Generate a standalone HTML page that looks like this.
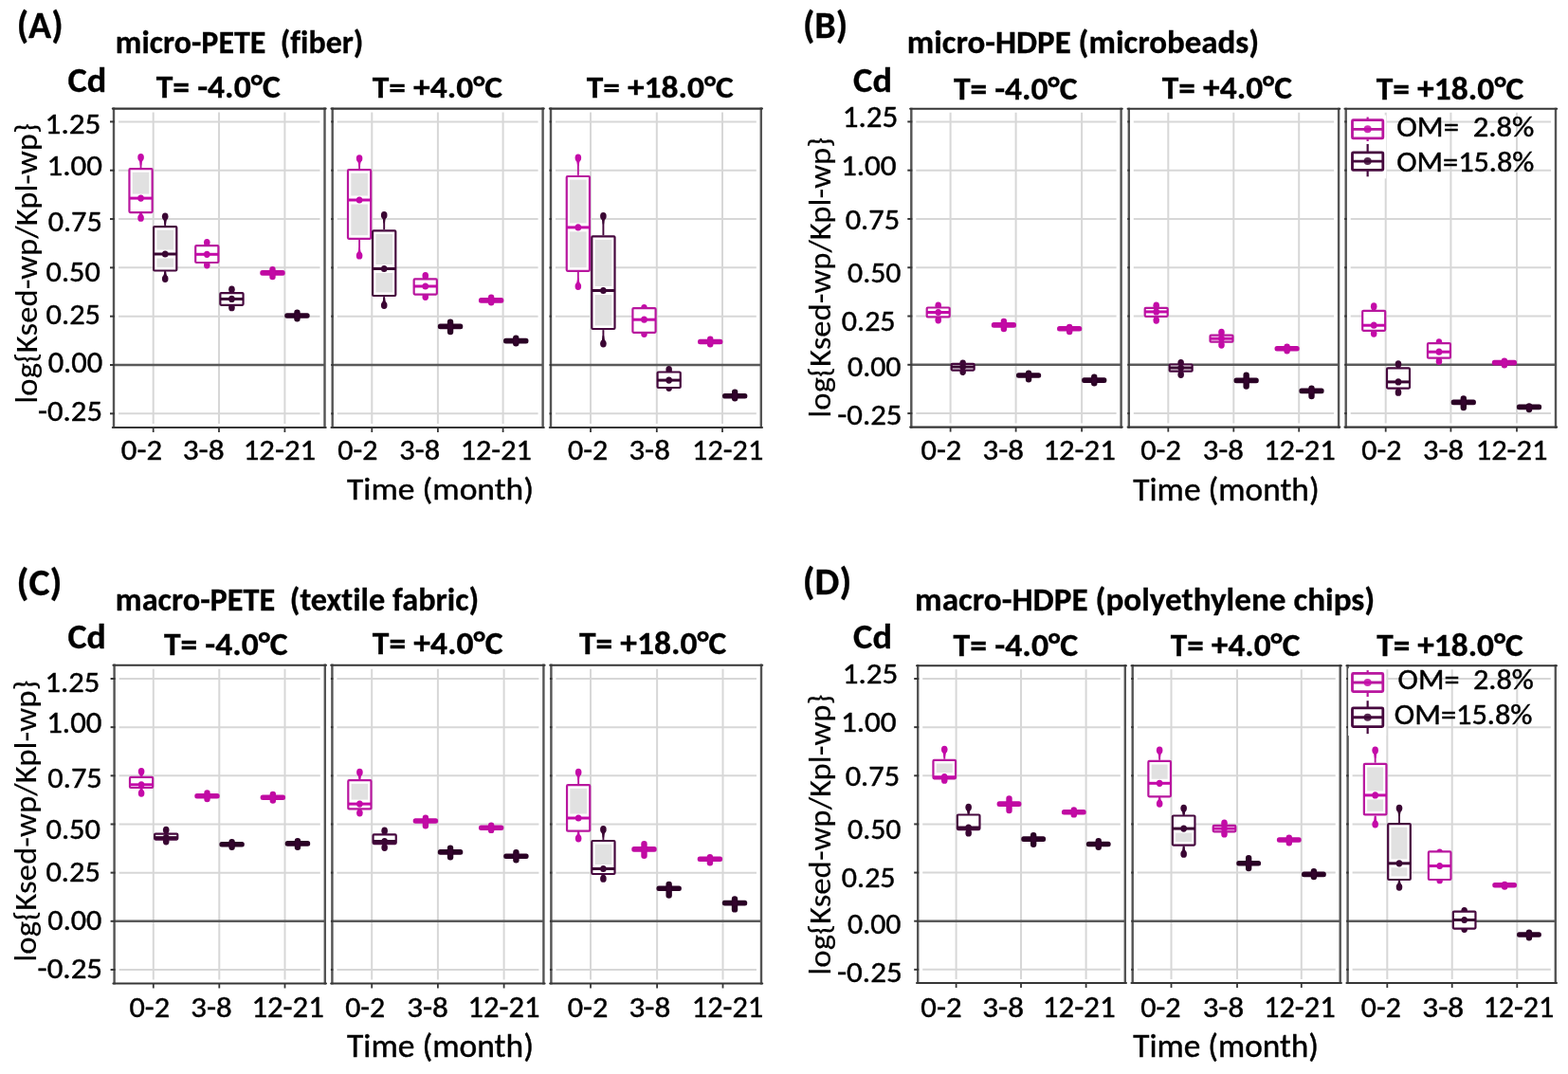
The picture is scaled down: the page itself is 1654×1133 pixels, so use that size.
<!DOCTYPE html>
<html><head><meta charset="utf-8"><title>Cd partitioning boxplots</title>
<style>html,body{margin:0;padding:0;background:#fff;}svg{display:block;}text{font-family:Carlito, 'Liberation Sans', sans-serif;white-space:pre;font-variant-ligatures:none;font-kerning:normal;stroke:#000;stroke-width:0.45px;}text[font-weight=bold]{stroke-width:0.3px;}</style></head>
<body><svg width="1654" height="1133" viewBox="0 0 1654 1133">
<rect width="1654" height="1133" fill="#fff"/>
<line x1="125" y1="128.4" x2="337.5" y2="128.4" stroke="#d7d7d7" stroke-width="2"/>
<line x1="125" y1="179.72" x2="337.5" y2="179.72" stroke="#d7d7d7" stroke-width="2"/>
<line x1="125" y1="231.04" x2="337.5" y2="231.04" stroke="#d7d7d7" stroke-width="2"/>
<line x1="125" y1="282.36" x2="337.5" y2="282.36" stroke="#d7d7d7" stroke-width="2"/>
<line x1="125" y1="333.68" x2="337.5" y2="333.68" stroke="#d7d7d7" stroke-width="2"/>
<line x1="125" y1="436.32" x2="337.5" y2="436.32" stroke="#d7d7d7" stroke-width="2"/>
<line x1="161.7" y1="118.6" x2="161.7" y2="447" stroke="#d7d7d7" stroke-width="2"/>
<line x1="231" y1="118.6" x2="231" y2="447" stroke="#d7d7d7" stroke-width="2"/>
<line x1="300.4" y1="118.6" x2="300.4" y2="447" stroke="#d7d7d7" stroke-width="2"/>
<line x1="120" y1="385" x2="342.5" y2="385" stroke="#5a5a5a" stroke-width="2.4"/>
<line x1="120" y1="113.5" x2="120" y2="452.1" stroke="#545454" stroke-width="2.4"/>
<line x1="342.5" y1="113.5" x2="342.5" y2="452.1" stroke="#545454" stroke-width="2.4"/>
<line x1="118.8" y1="114.6" x2="343.7" y2="114.6" stroke="#363636" stroke-width="2.1" stroke-linecap="round"/>
<line x1="118.8" y1="451" x2="343.7" y2="451" stroke="#363636" stroke-width="2.1" stroke-linecap="round"/>
<line x1="161.7" y1="451" x2="161.7" y2="456" stroke="#363636" stroke-width="1.8"/>
<line x1="231" y1="451" x2="231" y2="456" stroke="#363636" stroke-width="1.8"/>
<line x1="300.4" y1="451" x2="300.4" y2="456" stroke="#363636" stroke-width="1.8"/>
<line x1="116" y1="128.4" x2="121" y2="128.4" stroke="#363636" stroke-width="2"/>
<line x1="116" y1="179.72" x2="121" y2="179.72" stroke="#363636" stroke-width="2"/>
<line x1="116" y1="231.04" x2="121" y2="231.04" stroke="#363636" stroke-width="2"/>
<line x1="116" y1="282.36" x2="121" y2="282.36" stroke="#363636" stroke-width="2"/>
<line x1="116" y1="333.68" x2="121" y2="333.68" stroke="#363636" stroke-width="2"/>
<line x1="116" y1="385" x2="121" y2="385" stroke="#363636" stroke-width="2"/>
<line x1="116" y1="436.32" x2="121" y2="436.32" stroke="#363636" stroke-width="2"/>
<line x1="355.7" y1="128.4" x2="567.6" y2="128.4" stroke="#d7d7d7" stroke-width="2"/>
<line x1="355.7" y1="179.72" x2="567.6" y2="179.72" stroke="#d7d7d7" stroke-width="2"/>
<line x1="355.7" y1="231.04" x2="567.6" y2="231.04" stroke="#d7d7d7" stroke-width="2"/>
<line x1="355.7" y1="282.36" x2="567.6" y2="282.36" stroke="#d7d7d7" stroke-width="2"/>
<line x1="355.7" y1="333.68" x2="567.6" y2="333.68" stroke="#d7d7d7" stroke-width="2"/>
<line x1="355.7" y1="436.32" x2="567.6" y2="436.32" stroke="#d7d7d7" stroke-width="2"/>
<line x1="392.3" y1="118.6" x2="392.3" y2="447" stroke="#d7d7d7" stroke-width="2"/>
<line x1="461.9" y1="118.6" x2="461.9" y2="447" stroke="#d7d7d7" stroke-width="2"/>
<line x1="530.6" y1="118.6" x2="530.6" y2="447" stroke="#d7d7d7" stroke-width="2"/>
<line x1="350.7" y1="385" x2="572.6" y2="385" stroke="#5a5a5a" stroke-width="2.4"/>
<line x1="350.7" y1="113.5" x2="350.7" y2="452.1" stroke="#545454" stroke-width="2.4"/>
<line x1="572.6" y1="113.5" x2="572.6" y2="452.1" stroke="#545454" stroke-width="2.4"/>
<line x1="349.5" y1="114.6" x2="573.8" y2="114.6" stroke="#363636" stroke-width="2.1" stroke-linecap="round"/>
<line x1="349.5" y1="451" x2="573.8" y2="451" stroke="#363636" stroke-width="2.1" stroke-linecap="round"/>
<line x1="392.3" y1="451" x2="392.3" y2="456" stroke="#363636" stroke-width="1.8"/>
<line x1="461.9" y1="451" x2="461.9" y2="456" stroke="#363636" stroke-width="1.8"/>
<line x1="530.6" y1="451" x2="530.6" y2="456" stroke="#363636" stroke-width="1.8"/>
<line x1="349.2" y1="128.4" x2="351.7" y2="128.4" stroke="#363636" stroke-width="2"/>
<line x1="349.2" y1="179.72" x2="351.7" y2="179.72" stroke="#363636" stroke-width="2"/>
<line x1="349.2" y1="231.04" x2="351.7" y2="231.04" stroke="#363636" stroke-width="2"/>
<line x1="349.2" y1="282.36" x2="351.7" y2="282.36" stroke="#363636" stroke-width="2"/>
<line x1="349.2" y1="333.68" x2="351.7" y2="333.68" stroke="#363636" stroke-width="2"/>
<line x1="349.2" y1="385" x2="351.7" y2="385" stroke="#363636" stroke-width="2"/>
<line x1="349.2" y1="436.32" x2="351.7" y2="436.32" stroke="#363636" stroke-width="2"/>
<line x1="586" y1="128.4" x2="797.8" y2="128.4" stroke="#d7d7d7" stroke-width="2"/>
<line x1="586" y1="179.72" x2="797.8" y2="179.72" stroke="#d7d7d7" stroke-width="2"/>
<line x1="586" y1="231.04" x2="797.8" y2="231.04" stroke="#d7d7d7" stroke-width="2"/>
<line x1="586" y1="282.36" x2="797.8" y2="282.36" stroke="#d7d7d7" stroke-width="2"/>
<line x1="586" y1="333.68" x2="797.8" y2="333.68" stroke="#d7d7d7" stroke-width="2"/>
<line x1="586" y1="436.32" x2="797.8" y2="436.32" stroke="#d7d7d7" stroke-width="2"/>
<line x1="623" y1="118.6" x2="623" y2="447" stroke="#d7d7d7" stroke-width="2"/>
<line x1="692.8" y1="118.6" x2="692.8" y2="447" stroke="#d7d7d7" stroke-width="2"/>
<line x1="762" y1="118.6" x2="762" y2="447" stroke="#d7d7d7" stroke-width="2"/>
<line x1="581" y1="385" x2="802.8" y2="385" stroke="#5a5a5a" stroke-width="2.4"/>
<line x1="581" y1="113.5" x2="581" y2="452.1" stroke="#545454" stroke-width="2.4"/>
<line x1="802.8" y1="113.5" x2="802.8" y2="452.1" stroke="#545454" stroke-width="2.4"/>
<line x1="579.8" y1="114.6" x2="804" y2="114.6" stroke="#363636" stroke-width="2.1" stroke-linecap="round"/>
<line x1="579.8" y1="451" x2="804" y2="451" stroke="#363636" stroke-width="2.1" stroke-linecap="round"/>
<line x1="623" y1="451" x2="623" y2="456" stroke="#363636" stroke-width="1.8"/>
<line x1="692.8" y1="451" x2="692.8" y2="456" stroke="#363636" stroke-width="1.8"/>
<line x1="762" y1="451" x2="762" y2="456" stroke="#363636" stroke-width="1.8"/>
<line x1="579.5" y1="128.4" x2="582" y2="128.4" stroke="#363636" stroke-width="2"/>
<line x1="579.5" y1="179.72" x2="582" y2="179.72" stroke="#363636" stroke-width="2"/>
<line x1="579.5" y1="231.04" x2="582" y2="231.04" stroke="#363636" stroke-width="2"/>
<line x1="579.5" y1="282.36" x2="582" y2="282.36" stroke="#363636" stroke-width="2"/>
<line x1="579.5" y1="333.68" x2="582" y2="333.68" stroke="#363636" stroke-width="2"/>
<line x1="579.5" y1="385" x2="582" y2="385" stroke="#363636" stroke-width="2"/>
<line x1="579.5" y1="436.32" x2="582" y2="436.32" stroke="#363636" stroke-width="2"/>
<line x1="148.55" y1="166.1" x2="148.55" y2="177.1" stroke="#b8169e" stroke-width="1.9"/>
<line x1="148.55" y1="225.2" x2="148.55" y2="229.8" stroke="#b8169e" stroke-width="1.9"/>
<path d="M145.95 167.2 Q147.65 171 147.85 174.5 L149.25 174.5 Q149.45 171 151.15 167.2 Z" fill="#c40aa8"/>
<ellipse cx="148.55" cy="166" rx="3.3" ry="3.9" fill="#c40aa8"/>
<path d="M145.95 228.7 Q147.65 224.9 147.85 221.4 L149.25 221.4 Q149.45 224.9 151.15 228.7 Z" fill="#c40aa8"/>
<ellipse cx="148.55" cy="229.9" rx="3.3" ry="3.9" fill="#c40aa8"/>
<rect x="136.45" y="178.2" width="24.2" height="45.9" rx="1" fill="#fff" stroke="#b8169e" stroke-width="2.2"/>
<rect x="139.75" y="181.8" width="17.6" height="22.8" fill="#e1e1e1"/>
<line x1="136.45" y1="209.1" x2="160.65" y2="209.1" stroke="#c40aa8" stroke-width="3"/>
<ellipse cx="148.55" cy="209.1" rx="3.3" ry="3.6" fill="#c40aa8"/>
<line x1="174.2" y1="228.4" x2="174.2" y2="238" stroke="#46083e" stroke-width="1.9"/>
<line x1="174.2" y1="286.6" x2="174.2" y2="294" stroke="#46083e" stroke-width="1.9"/>
<path d="M171.6 229.5 Q173.3 233.3 173.5 236.8 L174.9 236.8 Q175.1 233.3 176.8 229.5 Z" fill="#3a0633"/>
<ellipse cx="174.2" cy="228.3" rx="3.3" ry="3.9" fill="#3a0633"/>
<path d="M171.6 292.9 Q173.3 289.1 173.5 285.6 L174.9 285.6 Q175.1 289.1 176.8 292.9 Z" fill="#3a0633"/>
<ellipse cx="174.2" cy="294.1" rx="3.3" ry="3.9" fill="#3a0633"/>
<rect x="162.1" y="239.1" width="24.2" height="46.4" rx="1" fill="#fff" stroke="#46083e" stroke-width="2.2"/>
<rect x="165.4" y="242.7" width="17.6" height="20.8" fill="#e1e1e1"/>
<rect x="165.4" y="272.5" width="17.6" height="9.4" fill="#e1e1e1"/>
<line x1="162.1" y1="268" x2="186.3" y2="268" stroke="#3a0633" stroke-width="3"/>
<ellipse cx="174.2" cy="268" rx="3.3" ry="3.6" fill="#3a0633"/>
<line x1="218.3" y1="255.9" x2="218.3" y2="258.1" stroke="#b8169e" stroke-width="1.9"/>
<line x1="218.3" y1="278.1" x2="218.3" y2="279.5" stroke="#b8169e" stroke-width="1.9"/>
<path d="M215.7 257 Q217.4 260.8 217.6 264.3 L219 264.3 Q219.2 260.8 220.9 257 Z" fill="#c40aa8"/>
<ellipse cx="218.3" cy="255.8" rx="3.3" ry="3.9" fill="#c40aa8"/>
<path d="M215.7 278.4 Q217.4 274.6 217.6 271.1 L219 271.1 Q219.2 274.6 220.9 278.4 Z" fill="#c40aa8"/>
<ellipse cx="218.3" cy="279.6" rx="3.3" ry="3.9" fill="#c40aa8"/>
<rect x="206.2" y="259.2" width="24.2" height="17.8" rx="1" fill="#fff" stroke="#b8169e" stroke-width="2.2"/>
<line x1="206.2" y1="268.3" x2="230.4" y2="268.3" stroke="#c40aa8" stroke-width="3"/>
<ellipse cx="218.3" cy="268.3" rx="3.3" ry="3.6" fill="#c40aa8"/>
<line x1="244.45" y1="305.4" x2="244.45" y2="308" stroke="#46083e" stroke-width="1.9"/>
<line x1="244.45" y1="322.9" x2="244.45" y2="324.3" stroke="#46083e" stroke-width="1.9"/>
<path d="M241.85 306.5 Q243.55 310.3 243.75 313.8 L245.15 313.8 Q245.35 310.3 247.05 306.5 Z" fill="#3a0633"/>
<ellipse cx="244.45" cy="305.3" rx="3.3" ry="3.9" fill="#3a0633"/>
<path d="M241.85 323.2 Q243.55 319.4 243.75 315.9 L245.15 315.9 Q245.35 319.4 247.05 323.2 Z" fill="#3a0633"/>
<ellipse cx="244.45" cy="324.4" rx="3.3" ry="3.9" fill="#3a0633"/>
<rect x="232.35" y="309.1" width="24.2" height="12.7" rx="1" fill="#fff" stroke="#46083e" stroke-width="2.2"/>
<line x1="232.35" y1="315.4" x2="256.55" y2="315.4" stroke="#3a0633" stroke-width="3"/>
<ellipse cx="244.45" cy="315.4" rx="3.3" ry="3.6" fill="#3a0633"/>
<rect x="274.3" y="285.1" width="26.4" height="5.6" rx="2.5" fill="#c00aa2"/>
<rect x="284.3" y="281.1" width="6.4" height="14.2" rx="3.2" fill="#c00aa2"/>
<ellipse cx="287.5" cy="287.9" rx="2.6" ry="3.2" fill="#c40aa8" opacity="0.6"/>
<rect x="300.25" y="330.2" width="26.4" height="5.6" rx="2.5" fill="#2a0025"/>
<rect x="310.25" y="326.5" width="6.4" height="13" rx="3.2" fill="#2a0025"/>
<ellipse cx="313.45" cy="333" rx="2.6" ry="3.2" fill="#3a0633" opacity="0.6"/>
<line x1="379.1" y1="167.2" x2="379.1" y2="178.1" stroke="#b8169e" stroke-width="1.9"/>
<line x1="379.1" y1="252.9" x2="379.1" y2="269.6" stroke="#b8169e" stroke-width="1.9"/>
<path d="M376.5 168.3 Q378.2 172.1 378.4 175.6 L379.8 175.6 Q380 172.1 381.7 168.3 Z" fill="#c40aa8"/>
<ellipse cx="379.1" cy="167.1" rx="3.3" ry="3.9" fill="#c40aa8"/>
<path d="M376.5 268.5 Q378.2 264.7 378.4 261.2 L379.8 261.2 Q380 264.7 381.7 268.5 Z" fill="#c40aa8"/>
<ellipse cx="379.1" cy="269.7" rx="3.3" ry="3.9" fill="#c40aa8"/>
<rect x="367" y="179.2" width="24.2" height="72.6" rx="1" fill="#fff" stroke="#b8169e" stroke-width="2.2"/>
<rect x="370.3" y="182.8" width="17.6" height="23.7" fill="#e1e1e1"/>
<rect x="370.3" y="215.5" width="17.6" height="32.7" fill="#e1e1e1"/>
<line x1="367" y1="211" x2="391.2" y2="211" stroke="#c40aa8" stroke-width="3"/>
<ellipse cx="379.1" cy="211" rx="3.3" ry="3.6" fill="#c40aa8"/>
<line x1="405.2" y1="227" x2="405.2" y2="242.2" stroke="#46083e" stroke-width="1.9"/>
<line x1="405.2" y1="313.1" x2="405.2" y2="322" stroke="#46083e" stroke-width="1.9"/>
<path d="M402.6 228.1 Q404.3 231.9 404.5 235.4 L405.9 235.4 Q406.1 231.9 407.8 228.1 Z" fill="#3a0633"/>
<ellipse cx="405.2" cy="226.9" rx="3.3" ry="3.9" fill="#3a0633"/>
<path d="M402.6 320.9 Q404.3 317.1 404.5 313.6 L405.9 313.6 Q406.1 317.1 407.8 320.9 Z" fill="#3a0633"/>
<ellipse cx="405.2" cy="322.1" rx="3.3" ry="3.9" fill="#3a0633"/>
<rect x="393.1" y="243.3" width="24.2" height="68.7" rx="1" fill="#fff" stroke="#46083e" stroke-width="2.2"/>
<rect x="396.4" y="246.9" width="17.6" height="32.1" fill="#e1e1e1"/>
<rect x="396.4" y="288" width="17.6" height="20.4" fill="#e1e1e1"/>
<line x1="393.1" y1="283.5" x2="417.3" y2="283.5" stroke="#3a0633" stroke-width="3"/>
<ellipse cx="405.2" cy="283.5" rx="3.3" ry="3.6" fill="#3a0633"/>
<line x1="448.75" y1="291" x2="448.75" y2="293.3" stroke="#b8169e" stroke-width="1.9"/>
<line x1="448.75" y1="311.7" x2="448.75" y2="313" stroke="#b8169e" stroke-width="1.9"/>
<path d="M446.15 292.1 Q447.85 295.9 448.05 299.4 L449.45 299.4 Q449.65 295.9 451.35 292.1 Z" fill="#c40aa8"/>
<ellipse cx="448.75" cy="290.9" rx="3.3" ry="3.9" fill="#c40aa8"/>
<path d="M446.15 311.9 Q447.85 308.1 448.05 304.6 L449.45 304.6 Q449.65 308.1 451.35 311.9 Z" fill="#c40aa8"/>
<ellipse cx="448.75" cy="313.1" rx="3.3" ry="3.9" fill="#c40aa8"/>
<rect x="436.65" y="294.4" width="24.2" height="16.2" rx="1" fill="#fff" stroke="#b8169e" stroke-width="2.2"/>
<line x1="436.65" y1="302" x2="460.85" y2="302" stroke="#c40aa8" stroke-width="3"/>
<ellipse cx="448.75" cy="302" rx="3.3" ry="3.6" fill="#c40aa8"/>
<rect x="461.85" y="341.6" width="26.4" height="5.6" rx="2.5" fill="#2a0025"/>
<rect x="471.85" y="336.5" width="6.4" height="16.7" rx="3.2" fill="#2a0025"/>
<ellipse cx="475.05" cy="344.4" rx="2.6" ry="3.2" fill="#3a0633" opacity="0.6"/>
<rect x="504.95" y="314.1" width="26.4" height="5.6" rx="2.5" fill="#c00aa2"/>
<rect x="514.95" y="310.5" width="6.4" height="12" rx="3.2" fill="#c00aa2"/>
<ellipse cx="518.15" cy="316.9" rx="2.6" ry="3.2" fill="#c40aa8" opacity="0.6"/>
<rect x="531.05" y="356.8" width="26.4" height="5.6" rx="2.5" fill="#2a0025"/>
<rect x="541.05" y="353.5" width="6.4" height="12" rx="3.2" fill="#2a0025"/>
<ellipse cx="544.25" cy="359.6" rx="2.6" ry="3.2" fill="#3a0633" opacity="0.6"/>
<line x1="609.85" y1="166.6" x2="609.85" y2="184.9" stroke="#b8169e" stroke-width="1.9"/>
<line x1="609.85" y1="286.9" x2="609.85" y2="302" stroke="#b8169e" stroke-width="1.9"/>
<path d="M607.25 167.7 Q608.95 171.5 609.15 175 L610.55 175 Q610.75 171.5 612.45 167.7 Z" fill="#c40aa8"/>
<ellipse cx="609.85" cy="166.5" rx="3.3" ry="3.9" fill="#c40aa8"/>
<path d="M607.25 300.9 Q608.95 297.1 609.15 293.6 L610.55 293.6 Q610.75 297.1 612.45 300.9 Z" fill="#c40aa8"/>
<ellipse cx="609.85" cy="302.1" rx="3.3" ry="3.9" fill="#c40aa8"/>
<rect x="597.75" y="186" width="24.2" height="99.8" rx="1" fill="#fff" stroke="#b8169e" stroke-width="2.2"/>
<rect x="601.05" y="189.6" width="17.6" height="45.8" fill="#e1e1e1"/>
<rect x="601.05" y="244.4" width="17.6" height="37.8" fill="#e1e1e1"/>
<line x1="597.75" y1="239.9" x2="621.95" y2="239.9" stroke="#c40aa8" stroke-width="3"/>
<ellipse cx="609.85" cy="239.9" rx="3.3" ry="3.6" fill="#c40aa8"/>
<line x1="636.4" y1="228" x2="636.4" y2="248.2" stroke="#46083e" stroke-width="1.9"/>
<line x1="636.4" y1="348.1" x2="636.4" y2="362.5" stroke="#46083e" stroke-width="1.9"/>
<path d="M633.8 229.1 Q635.5 232.9 635.7 236.4 L637.1 236.4 Q637.3 232.9 639 229.1 Z" fill="#3a0633"/>
<ellipse cx="636.4" cy="227.9" rx="3.3" ry="3.9" fill="#3a0633"/>
<path d="M633.8 361.4 Q635.5 357.6 635.7 354.1 L637.1 354.1 Q637.3 357.6 639 361.4 Z" fill="#3a0633"/>
<ellipse cx="636.4" cy="362.6" rx="3.3" ry="3.9" fill="#3a0633"/>
<rect x="624.3" y="249.3" width="24.2" height="97.7" rx="1" fill="#fff" stroke="#46083e" stroke-width="2.2"/>
<rect x="627.6" y="252.9" width="17.6" height="49.1" fill="#e1e1e1"/>
<rect x="627.6" y="311" width="17.6" height="32.4" fill="#e1e1e1"/>
<line x1="624.3" y1="306.5" x2="648.5" y2="306.5" stroke="#3a0633" stroke-width="3"/>
<ellipse cx="636.4" cy="306.5" rx="3.3" ry="3.6" fill="#3a0633"/>
<line x1="679.5" y1="325" x2="679.5" y2="324" stroke="#b8169e" stroke-width="1.9"/>
<line x1="679.5" y1="351.9" x2="679.5" y2="352" stroke="#b8169e" stroke-width="1.9"/>
<path d="M676.9 326.1 Q678.6 329.9 678.8 333.4 L680.2 333.4 Q680.4 329.9 682.1 326.1 Z" fill="#c40aa8"/>
<ellipse cx="679.5" cy="324.9" rx="3.3" ry="3.9" fill="#c40aa8"/>
<path d="M676.9 350.9 Q678.6 347.1 678.8 343.6 L680.2 343.6 Q680.4 347.1 682.1 350.9 Z" fill="#c40aa8"/>
<ellipse cx="679.5" cy="352.1" rx="3.3" ry="3.9" fill="#c40aa8"/>
<rect x="667.4" y="325.1" width="24.2" height="25.7" rx="1" fill="#fff" stroke="#b8169e" stroke-width="2.2"/>
<line x1="667.4" y1="337.2" x2="691.6" y2="337.2" stroke="#c40aa8" stroke-width="3"/>
<ellipse cx="679.5" cy="337.2" rx="3.3" ry="3.6" fill="#c40aa8"/>
<line x1="705.65" y1="390" x2="705.65" y2="391.4" stroke="#46083e" stroke-width="1.9"/>
<line x1="705.65" y1="410.1" x2="705.65" y2="409" stroke="#46083e" stroke-width="1.9"/>
<path d="M703.05 391.1 Q704.75 394.9 704.95 398.4 L706.35 398.4 Q706.55 394.9 708.25 391.1 Z" fill="#3a0633"/>
<ellipse cx="705.65" cy="389.9" rx="3.3" ry="3.9" fill="#3a0633"/>
<path d="M703.05 407.9 Q704.75 404.1 704.95 400.6 L706.35 400.6 Q706.55 404.1 708.25 407.9 Z" fill="#3a0633"/>
<ellipse cx="705.65" cy="409.1" rx="3.3" ry="3.9" fill="#3a0633"/>
<rect x="693.55" y="392.5" width="24.2" height="16.5" rx="1" fill="#fff" stroke="#46083e" stroke-width="2.2"/>
<line x1="693.55" y1="401.1" x2="717.75" y2="401.1" stroke="#3a0633" stroke-width="3"/>
<ellipse cx="705.65" cy="401.1" rx="3.3" ry="3.6" fill="#3a0633"/>
<rect x="736" y="357.7" width="26.4" height="5.6" rx="2.5" fill="#c00aa2"/>
<rect x="746" y="354.5" width="6.4" height="12" rx="3.2" fill="#c00aa2"/>
<ellipse cx="749.2" cy="360.5" rx="2.6" ry="3.2" fill="#c40aa8" opacity="0.6"/>
<rect x="761.95" y="415" width="26.4" height="5.6" rx="2.5" fill="#2a0025"/>
<rect x="771.95" y="410.5" width="6.4" height="13" rx="3.2" fill="#2a0025"/>
<ellipse cx="775.15" cy="417.8" rx="2.6" ry="3.2" fill="#3a0633" opacity="0.6"/>
<text x="17.71" y="39.9" font-size="40.77" font-weight="bold" textLength="48.94" lengthAdjust="spacingAndGlyphs" fill="#000">(A)</text>
<text x="121.86" y="55.9" font-size="33.54" font-weight="bold" textLength="261.57" lengthAdjust="spacingAndGlyphs" fill="#000">micro-PETE  (fiber)</text>
<text x="71.43" y="96.8" font-size="36.15" font-weight="bold" textLength="40.91" lengthAdjust="spacingAndGlyphs" fill="#000">Cd</text>
<text x="164.7" y="103" font-size="34.46" font-weight="bold" textLength="131.08" lengthAdjust="spacingAndGlyphs" fill="#000">T= -4.0°C</text>
<text x="392.7" y="103" font-size="33.23" font-weight="bold" textLength="137.44" lengthAdjust="spacingAndGlyphs" fill="#000">T= +4.0°C</text>
<text x="618.7" y="103" font-size="33.23" font-weight="bold" textLength="155.13" lengthAdjust="spacingAndGlyphs" fill="#000">T= +18.0°C</text>
<text x="47.62" y="141.2" font-size="30.15" font-weight="normal" textLength="58.74" lengthAdjust="spacingAndGlyphs" fill="#000">1.25</text>
<text x="49.64" y="184.89" font-size="31.19" font-weight="normal" textLength="58.32" lengthAdjust="spacingAndGlyphs" fill="#000">1.00</text>
<text x="50.66" y="244.09" font-size="30.9" font-weight="normal" textLength="57.05" lengthAdjust="spacingAndGlyphs" fill="#000">0.75</text>
<text x="48.55" y="297.19" font-size="31.49" font-weight="normal" textLength="57.19" lengthAdjust="spacingAndGlyphs" fill="#000">0.50</text>
<text x="48.55" y="341.69" font-size="31.04" font-weight="normal" textLength="57.47" lengthAdjust="spacingAndGlyphs" fill="#000">0.25</text>
<text x="50.65" y="393.18" font-size="31.94" font-weight="normal" textLength="57.6" lengthAdjust="spacingAndGlyphs" fill="#000">0.00</text>
<text x="40.12" y="444.19" font-size="31.34" font-weight="normal" textLength="67.81" lengthAdjust="spacingAndGlyphs" fill="#000">-0.25</text>
<text x="127.85" y="484.89" font-size="31.04" font-weight="normal" textLength="43.16" lengthAdjust="spacingAndGlyphs" fill="#000">0-2</text>
<text x="192.67" y="484.9" font-size="29.71" font-weight="normal" textLength="43.96" lengthAdjust="spacingAndGlyphs" fill="#000">3-8</text>
<text x="256.76" y="485.2" font-size="31.52" font-weight="normal" textLength="76.27" lengthAdjust="spacingAndGlyphs" fill="#000">12-21</text>
<text x="356.36" y="484.89" font-size="31.04" font-weight="normal" textLength="42.11" lengthAdjust="spacingAndGlyphs" fill="#000">0-2</text>
<text x="421.3" y="484.9" font-size="29.71" font-weight="normal" textLength="42.79" lengthAdjust="spacingAndGlyphs" fill="#000">3-8</text>
<text x="485.7" y="485.2" font-size="31.52" font-weight="normal" textLength="75.1" lengthAdjust="spacingAndGlyphs" fill="#000">12-21</text>
<text x="599.06" y="484.89" font-size="31.04" font-weight="normal" textLength="42.11" lengthAdjust="spacingAndGlyphs" fill="#000">0-2</text>
<text x="663.49" y="484.9" font-size="29.71" font-weight="normal" textLength="43.32" lengthAdjust="spacingAndGlyphs" fill="#000">3-8</text>
<text x="730.1" y="485.2" font-size="31.52" font-weight="normal" textLength="75.1" lengthAdjust="spacingAndGlyphs" fill="#000">12-21</text>
<text x="365.94" y="527.4" font-size="33.23" font-weight="normal" textLength="197.09" lengthAdjust="spacingAndGlyphs" fill="#000">Time (month)</text>
<text transform="translate(38.6 425.63) rotate(-90)" x="0" y="0" font-size="32.78" textLength="295.54" lengthAdjust="spacingAndGlyphs" style="stroke-width:0.15px">log{Ksed-wp/Kpl-wp}</text>
<line x1="966.3" y1="128.4" x2="1177.6" y2="128.4" stroke="#d7d7d7" stroke-width="2"/>
<line x1="966.3" y1="179.68" x2="1177.6" y2="179.68" stroke="#d7d7d7" stroke-width="2"/>
<line x1="966.3" y1="230.96" x2="1177.6" y2="230.96" stroke="#d7d7d7" stroke-width="2"/>
<line x1="966.3" y1="282.24" x2="1177.6" y2="282.24" stroke="#d7d7d7" stroke-width="2"/>
<line x1="966.3" y1="333.52" x2="1177.6" y2="333.52" stroke="#d7d7d7" stroke-width="2"/>
<line x1="966.3" y1="436.08" x2="1177.6" y2="436.08" stroke="#d7d7d7" stroke-width="2"/>
<line x1="1002.6" y1="118.8" x2="1002.6" y2="446.6" stroke="#d7d7d7" stroke-width="2"/>
<line x1="1071.6" y1="118.8" x2="1071.6" y2="446.6" stroke="#d7d7d7" stroke-width="2"/>
<line x1="1141.1" y1="118.8" x2="1141.1" y2="446.6" stroke="#d7d7d7" stroke-width="2"/>
<line x1="961.3" y1="384.8" x2="1182.6" y2="384.8" stroke="#5a5a5a" stroke-width="2.4"/>
<line x1="961.3" y1="113.7" x2="961.3" y2="451.7" stroke="#545454" stroke-width="2.4"/>
<line x1="1182.6" y1="113.7" x2="1182.6" y2="451.7" stroke="#545454" stroke-width="2.4"/>
<line x1="960.1" y1="114.8" x2="1183.8" y2="114.8" stroke="#363636" stroke-width="2.1" stroke-linecap="round"/>
<line x1="960.1" y1="450.6" x2="1183.8" y2="450.6" stroke="#363636" stroke-width="2.1" stroke-linecap="round"/>
<line x1="1002.6" y1="450.6" x2="1002.6" y2="455.6" stroke="#363636" stroke-width="1.8"/>
<line x1="1071.6" y1="450.6" x2="1071.6" y2="455.6" stroke="#363636" stroke-width="1.8"/>
<line x1="1141.1" y1="450.6" x2="1141.1" y2="455.6" stroke="#363636" stroke-width="1.8"/>
<line x1="957.3" y1="128.4" x2="962.3" y2="128.4" stroke="#363636" stroke-width="2"/>
<line x1="957.3" y1="179.68" x2="962.3" y2="179.68" stroke="#363636" stroke-width="2"/>
<line x1="957.3" y1="230.96" x2="962.3" y2="230.96" stroke="#363636" stroke-width="2"/>
<line x1="957.3" y1="282.24" x2="962.3" y2="282.24" stroke="#363636" stroke-width="2"/>
<line x1="957.3" y1="333.52" x2="962.3" y2="333.52" stroke="#363636" stroke-width="2"/>
<line x1="957.3" y1="384.8" x2="962.3" y2="384.8" stroke="#363636" stroke-width="2"/>
<line x1="957.3" y1="436.08" x2="962.3" y2="436.08" stroke="#363636" stroke-width="2"/>
<line x1="1195.8" y1="128.4" x2="1407.1" y2="128.4" stroke="#d7d7d7" stroke-width="2"/>
<line x1="1195.8" y1="179.68" x2="1407.1" y2="179.68" stroke="#d7d7d7" stroke-width="2"/>
<line x1="1195.8" y1="230.96" x2="1407.1" y2="230.96" stroke="#d7d7d7" stroke-width="2"/>
<line x1="1195.8" y1="282.24" x2="1407.1" y2="282.24" stroke="#d7d7d7" stroke-width="2"/>
<line x1="1195.8" y1="333.52" x2="1407.1" y2="333.52" stroke="#d7d7d7" stroke-width="2"/>
<line x1="1195.8" y1="436.08" x2="1407.1" y2="436.08" stroke="#d7d7d7" stroke-width="2"/>
<line x1="1232.3" y1="118.8" x2="1232.3" y2="446.6" stroke="#d7d7d7" stroke-width="2"/>
<line x1="1301.3" y1="118.8" x2="1301.3" y2="446.6" stroke="#d7d7d7" stroke-width="2"/>
<line x1="1370.2" y1="118.8" x2="1370.2" y2="446.6" stroke="#d7d7d7" stroke-width="2"/>
<line x1="1190.8" y1="384.8" x2="1412.1" y2="384.8" stroke="#5a5a5a" stroke-width="2.4"/>
<line x1="1190.8" y1="113.7" x2="1190.8" y2="451.7" stroke="#545454" stroke-width="2.4"/>
<line x1="1412.1" y1="113.7" x2="1412.1" y2="451.7" stroke="#545454" stroke-width="2.4"/>
<line x1="1189.6" y1="114.8" x2="1413.3" y2="114.8" stroke="#363636" stroke-width="2.1" stroke-linecap="round"/>
<line x1="1189.6" y1="450.6" x2="1413.3" y2="450.6" stroke="#363636" stroke-width="2.1" stroke-linecap="round"/>
<line x1="1232.3" y1="450.6" x2="1232.3" y2="455.6" stroke="#363636" stroke-width="1.8"/>
<line x1="1301.3" y1="450.6" x2="1301.3" y2="455.6" stroke="#363636" stroke-width="1.8"/>
<line x1="1370.2" y1="450.6" x2="1370.2" y2="455.6" stroke="#363636" stroke-width="1.8"/>
<line x1="1189.3" y1="128.4" x2="1191.8" y2="128.4" stroke="#363636" stroke-width="2"/>
<line x1="1189.3" y1="179.68" x2="1191.8" y2="179.68" stroke="#363636" stroke-width="2"/>
<line x1="1189.3" y1="230.96" x2="1191.8" y2="230.96" stroke="#363636" stroke-width="2"/>
<line x1="1189.3" y1="282.24" x2="1191.8" y2="282.24" stroke="#363636" stroke-width="2"/>
<line x1="1189.3" y1="333.52" x2="1191.8" y2="333.52" stroke="#363636" stroke-width="2"/>
<line x1="1189.3" y1="384.8" x2="1191.8" y2="384.8" stroke="#363636" stroke-width="2"/>
<line x1="1189.3" y1="436.08" x2="1191.8" y2="436.08" stroke="#363636" stroke-width="2"/>
<line x1="1424.7" y1="128.4" x2="1636" y2="128.4" stroke="#d7d7d7" stroke-width="2"/>
<line x1="1424.7" y1="179.68" x2="1636" y2="179.68" stroke="#d7d7d7" stroke-width="2"/>
<line x1="1424.7" y1="230.96" x2="1636" y2="230.96" stroke="#d7d7d7" stroke-width="2"/>
<line x1="1424.7" y1="282.24" x2="1636" y2="282.24" stroke="#d7d7d7" stroke-width="2"/>
<line x1="1424.7" y1="333.52" x2="1636" y2="333.52" stroke="#d7d7d7" stroke-width="2"/>
<line x1="1424.7" y1="436.08" x2="1636" y2="436.08" stroke="#d7d7d7" stroke-width="2"/>
<line x1="1461.7" y1="118.8" x2="1461.7" y2="446.6" stroke="#d7d7d7" stroke-width="2"/>
<line x1="1530.4" y1="118.8" x2="1530.4" y2="446.6" stroke="#d7d7d7" stroke-width="2"/>
<line x1="1600" y1="118.8" x2="1600" y2="446.6" stroke="#d7d7d7" stroke-width="2"/>
<line x1="1419.7" y1="384.8" x2="1641" y2="384.8" stroke="#5a5a5a" stroke-width="2.4"/>
<line x1="1419.7" y1="113.7" x2="1419.7" y2="451.7" stroke="#545454" stroke-width="2.4"/>
<line x1="1641" y1="113.7" x2="1641" y2="451.7" stroke="#545454" stroke-width="2.4"/>
<line x1="1418.5" y1="114.8" x2="1642.2" y2="114.8" stroke="#363636" stroke-width="2.1" stroke-linecap="round"/>
<line x1="1418.5" y1="450.6" x2="1642.2" y2="450.6" stroke="#363636" stroke-width="2.1" stroke-linecap="round"/>
<line x1="1461.7" y1="450.6" x2="1461.7" y2="455.6" stroke="#363636" stroke-width="1.8"/>
<line x1="1530.4" y1="450.6" x2="1530.4" y2="455.6" stroke="#363636" stroke-width="1.8"/>
<line x1="1600" y1="450.6" x2="1600" y2="455.6" stroke="#363636" stroke-width="1.8"/>
<line x1="1418.2" y1="128.4" x2="1420.7" y2="128.4" stroke="#363636" stroke-width="2"/>
<line x1="1418.2" y1="179.68" x2="1420.7" y2="179.68" stroke="#363636" stroke-width="2"/>
<line x1="1418.2" y1="230.96" x2="1420.7" y2="230.96" stroke="#363636" stroke-width="2"/>
<line x1="1418.2" y1="282.24" x2="1420.7" y2="282.24" stroke="#363636" stroke-width="2"/>
<line x1="1418.2" y1="333.52" x2="1420.7" y2="333.52" stroke="#363636" stroke-width="2"/>
<line x1="1418.2" y1="384.8" x2="1420.7" y2="384.8" stroke="#363636" stroke-width="2"/>
<line x1="1418.2" y1="436.08" x2="1420.7" y2="436.08" stroke="#363636" stroke-width="2"/>
<line x1="989.7" y1="322.4" x2="989.7" y2="323.4" stroke="#b8169e" stroke-width="1.9"/>
<line x1="989.7" y1="335.5" x2="989.7" y2="337.4" stroke="#b8169e" stroke-width="1.9"/>
<path d="M987.1 323.5 Q988.8 327.3 989 330.8 L990.4 330.8 Q990.6 327.3 992.3 323.5 Z" fill="#c40aa8"/>
<ellipse cx="989.7" cy="322.3" rx="3.3" ry="3.9" fill="#c40aa8"/>
<path d="M987.1 336.3 Q988.8 332.5 989 329 L990.4 329 Q990.6 332.5 992.3 336.3 Z" fill="#c40aa8"/>
<ellipse cx="989.7" cy="337.5" rx="3.3" ry="3.9" fill="#c40aa8"/>
<rect x="977.7" y="324.5" width="24" height="9.9" rx="1" fill="#fff" stroke="#b8169e" stroke-width="2.2"/>
<line x1="977.7" y1="329.5" x2="1001.7" y2="329.5" stroke="#c40aa8" stroke-width="3"/>
<ellipse cx="989.7" cy="329.5" rx="3.3" ry="3.6" fill="#c40aa8"/>
<line x1="1015.65" y1="383.6" x2="1015.65" y2="382.8" stroke="#46083e" stroke-width="1.9"/>
<line x1="1015.65" y1="391.7" x2="1015.65" y2="392" stroke="#46083e" stroke-width="1.9"/>
<path d="M1013.05 384.7 Q1014.75 388.5 1014.95 392 L1016.35 392 Q1016.55 388.5 1018.25 384.7 Z" fill="#3a0633"/>
<ellipse cx="1015.65" cy="383.5" rx="3.3" ry="3.9" fill="#3a0633"/>
<path d="M1013.05 390.9 Q1014.75 387.1 1014.95 383.6 L1016.35 383.6 Q1016.55 387.1 1018.25 390.9 Z" fill="#3a0633"/>
<ellipse cx="1015.65" cy="392.1" rx="3.3" ry="3.9" fill="#3a0633"/>
<rect x="1003.65" y="383.9" width="24" height="6.7" rx="1" fill="#fff" stroke="#46083e" stroke-width="2.2"/>
<line x1="1003.65" y1="387" x2="1027.65" y2="387" stroke="#3a0633" stroke-width="3"/>
<ellipse cx="1015.65" cy="387" rx="3.3" ry="3.6" fill="#3a0633"/>
<rect x="1045.8" y="340.1" width="26.2" height="5.6" rx="2.5" fill="#c00aa2"/>
<rect x="1055.7" y="335.8" width="6.4" height="14.4" rx="3.2" fill="#c00aa2"/>
<ellipse cx="1058.9" cy="342.9" rx="2.6" ry="3.2" fill="#c40aa8" opacity="0.6"/>
<rect x="1071.95" y="393.2" width="26.2" height="5.6" rx="2.5" fill="#2a0025"/>
<rect x="1081.85" y="390.5" width="6.4" height="12.9" rx="3.2" fill="#2a0025"/>
<ellipse cx="1085.05" cy="396" rx="2.6" ry="3.2" fill="#3a0633" opacity="0.6"/>
<rect x="1115.05" y="344" width="26.2" height="5.6" rx="2.5" fill="#c00aa2"/>
<rect x="1124.95" y="341.8" width="6.4" height="11.4" rx="3.2" fill="#c00aa2"/>
<ellipse cx="1128.15" cy="346.8" rx="2.6" ry="3.2" fill="#c40aa8" opacity="0.6"/>
<rect x="1141.15" y="398.3" width="26.2" height="5.6" rx="2.5" fill="#2a0025"/>
<rect x="1151.05" y="394.5" width="6.4" height="13" rx="3.2" fill="#2a0025"/>
<ellipse cx="1154.25" cy="401.1" rx="2.6" ry="3.2" fill="#3a0633" opacity="0.6"/>
<line x1="1219.7" y1="322.4" x2="1219.7" y2="323.7" stroke="#b8169e" stroke-width="1.9"/>
<line x1="1219.7" y1="334.9" x2="1219.7" y2="337.7" stroke="#b8169e" stroke-width="1.9"/>
<path d="M1217.1 323.5 Q1218.8 327.3 1219 330.8 L1220.4 330.8 Q1220.6 327.3 1222.3 323.5 Z" fill="#c40aa8"/>
<ellipse cx="1219.7" cy="322.3" rx="3.3" ry="3.9" fill="#c40aa8"/>
<path d="M1217.1 336.6 Q1218.8 332.8 1219 329.3 L1220.4 329.3 Q1220.6 332.8 1222.3 336.6 Z" fill="#c40aa8"/>
<ellipse cx="1219.7" cy="337.8" rx="3.3" ry="3.9" fill="#c40aa8"/>
<rect x="1207.7" y="324.8" width="24" height="9" rx="1" fill="#fff" stroke="#b8169e" stroke-width="2.2"/>
<line x1="1207.7" y1="328.9" x2="1231.7" y2="328.9" stroke="#c40aa8" stroke-width="3"/>
<ellipse cx="1219.7" cy="328.9" rx="3.3" ry="3.6" fill="#c40aa8"/>
<line x1="1245.65" y1="383" x2="1245.65" y2="383.4" stroke="#46083e" stroke-width="1.9"/>
<line x1="1245.65" y1="392.8" x2="1245.65" y2="395" stroke="#46083e" stroke-width="1.9"/>
<path d="M1243.05 384.1 Q1244.75 387.9 1244.95 391.4 L1246.35 391.4 Q1246.55 387.9 1248.25 384.1 Z" fill="#3a0633"/>
<ellipse cx="1245.65" cy="382.9" rx="3.3" ry="3.9" fill="#3a0633"/>
<path d="M1243.05 393.9 Q1244.75 390.1 1244.95 386.6 L1246.35 386.6 Q1246.55 390.1 1248.25 393.9 Z" fill="#3a0633"/>
<ellipse cx="1245.65" cy="395.1" rx="3.3" ry="3.9" fill="#3a0633"/>
<rect x="1233.65" y="384.5" width="24" height="7.2" rx="1" fill="#fff" stroke="#46083e" stroke-width="2.2"/>
<line x1="1233.65" y1="388" x2="1257.65" y2="388" stroke="#3a0633" stroke-width="3"/>
<ellipse cx="1245.65" cy="388" rx="3.3" ry="3.6" fill="#3a0633"/>
<line x1="1288.5" y1="350.8" x2="1288.5" y2="352.6" stroke="#b8169e" stroke-width="1.9"/>
<line x1="1288.5" y1="361.8" x2="1288.5" y2="363.7" stroke="#b8169e" stroke-width="1.9"/>
<path d="M1285.9 351.9 Q1287.6 355.7 1287.8 359.2 L1289.2 359.2 Q1289.4 355.7 1291.1 351.9 Z" fill="#c40aa8"/>
<ellipse cx="1288.5" cy="350.7" rx="3.3" ry="3.9" fill="#c40aa8"/>
<path d="M1285.9 362.6 Q1287.6 358.8 1287.8 355.3 L1289.2 355.3 Q1289.4 358.8 1291.1 362.6 Z" fill="#c40aa8"/>
<ellipse cx="1288.5" cy="363.8" rx="3.3" ry="3.9" fill="#c40aa8"/>
<rect x="1276.5" y="353.7" width="24" height="7" rx="1" fill="#fff" stroke="#b8169e" stroke-width="2.2"/>
<line x1="1276.5" y1="357.2" x2="1300.5" y2="357.2" stroke="#c40aa8" stroke-width="3"/>
<ellipse cx="1288.5" cy="357.2" rx="3.3" ry="3.6" fill="#c40aa8"/>
<rect x="1301.55" y="398.6" width="26.2" height="5.6" rx="2.5" fill="#2a0025"/>
<rect x="1311.45" y="392.5" width="6.4" height="18.3" rx="3.2" fill="#2a0025"/>
<ellipse cx="1314.65" cy="401.4" rx="2.6" ry="3.2" fill="#3a0633" opacity="0.6"/>
<rect x="1344.5" y="364.9" width="26.2" height="5.6" rx="2.5" fill="#c00aa2"/>
<rect x="1354.4" y="362.5" width="6.4" height="11" rx="3.2" fill="#c00aa2"/>
<ellipse cx="1357.6" cy="367.7" rx="2.6" ry="3.2" fill="#c40aa8" opacity="0.6"/>
<rect x="1370.4" y="409.6" width="26.2" height="5.6" rx="2.5" fill="#2a0025"/>
<rect x="1380.3" y="406.5" width="6.4" height="14.7" rx="3.2" fill="#2a0025"/>
<ellipse cx="1383.5" cy="412.4" rx="2.6" ry="3.2" fill="#3a0633" opacity="0.6"/>
<line x1="1449.2" y1="323.3" x2="1449.2" y2="326.7" stroke="#b8169e" stroke-width="1.9"/>
<line x1="1449.2" y1="349.9" x2="1449.2" y2="351.7" stroke="#b8169e" stroke-width="1.9"/>
<path d="M1446.6 324.4 Q1448.3 328.2 1448.5 331.7 L1449.9 331.7 Q1450.1 328.2 1451.8 324.4 Z" fill="#c40aa8"/>
<ellipse cx="1449.2" cy="323.2" rx="3.3" ry="3.9" fill="#c40aa8"/>
<path d="M1446.6 350.6 Q1448.3 346.8 1448.5 343.3 L1449.9 343.3 Q1450.1 346.8 1451.8 350.6 Z" fill="#c40aa8"/>
<ellipse cx="1449.2" cy="351.8" rx="3.3" ry="3.9" fill="#c40aa8"/>
<rect x="1437.2" y="327.8" width="24" height="21" rx="1" fill="#fff" stroke="#b8169e" stroke-width="2.2"/>
<line x1="1437.2" y1="343.2" x2="1461.2" y2="343.2" stroke="#c40aa8" stroke-width="3"/>
<ellipse cx="1449.2" cy="343.2" rx="3.3" ry="3.6" fill="#c40aa8"/>
<line x1="1475" y1="384.2" x2="1475" y2="387.3" stroke="#46083e" stroke-width="1.9"/>
<line x1="1475" y1="410.7" x2="1475" y2="413.8" stroke="#46083e" stroke-width="1.9"/>
<path d="M1472.4 385.3 Q1474.1 389.1 1474.3 392.6 L1475.7 392.6 Q1475.9 389.1 1477.6 385.3 Z" fill="#3a0633"/>
<ellipse cx="1475" cy="384.1" rx="3.3" ry="3.9" fill="#3a0633"/>
<path d="M1472.4 412.7 Q1474.1 408.9 1474.3 405.4 L1475.7 405.4 Q1475.9 408.9 1477.6 412.7 Z" fill="#3a0633"/>
<ellipse cx="1475" cy="413.9" rx="3.3" ry="3.9" fill="#3a0633"/>
<rect x="1463" y="388.4" width="24" height="21.2" rx="1" fill="#fff" stroke="#46083e" stroke-width="2.2"/>
<line x1="1463" y1="402.9" x2="1487" y2="402.9" stroke="#3a0633" stroke-width="3"/>
<ellipse cx="1475" cy="402.9" rx="3.3" ry="3.6" fill="#3a0633"/>
<line x1="1517.95" y1="361.2" x2="1517.95" y2="361" stroke="#b8169e" stroke-width="1.9"/>
<line x1="1517.95" y1="378.8" x2="1517.95" y2="381" stroke="#b8169e" stroke-width="1.9"/>
<path d="M1515.35 362.3 Q1517.05 366.1 1517.25 369.6 L1518.65 369.6 Q1518.85 366.1 1520.55 362.3 Z" fill="#c40aa8"/>
<ellipse cx="1517.95" cy="361.1" rx="3.3" ry="3.9" fill="#c40aa8"/>
<path d="M1515.35 379.9 Q1517.05 376.1 1517.25 372.6 L1518.65 372.6 Q1518.85 376.1 1520.55 379.9 Z" fill="#c40aa8"/>
<ellipse cx="1517.95" cy="381.1" rx="3.3" ry="3.9" fill="#c40aa8"/>
<rect x="1505.95" y="362.1" width="24" height="15.6" rx="1" fill="#fff" stroke="#b8169e" stroke-width="2.2"/>
<line x1="1505.95" y1="371.2" x2="1529.95" y2="371.2" stroke="#c40aa8" stroke-width="3"/>
<ellipse cx="1517.95" cy="371.2" rx="3.3" ry="3.6" fill="#c40aa8"/>
<rect x="1530.7" y="421.6" width="26.2" height="5.6" rx="2.5" fill="#2a0025"/>
<rect x="1540.6" y="417.3" width="6.4" height="15.9" rx="3.2" fill="#2a0025"/>
<ellipse cx="1543.8" cy="424.4" rx="2.6" ry="3.2" fill="#3a0633" opacity="0.6"/>
<rect x="1573.8" y="379.8" width="26.2" height="5.6" rx="2.5" fill="#c00aa2"/>
<rect x="1583.7" y="377.5" width="6.4" height="11" rx="3.2" fill="#c00aa2"/>
<ellipse cx="1586.9" cy="382.6" rx="2.6" ry="3.2" fill="#c40aa8" opacity="0.6"/>
<rect x="1599.9" y="426.6" width="26.2" height="5.6" rx="2.5" fill="#2a0025"/>
<rect x="1609.8" y="425.3" width="6.4" height="10" rx="3.2" fill="#2a0025"/>
<ellipse cx="1613" cy="429.4" rx="2.6" ry="3.2" fill="#3a0633" opacity="0.6"/>
<rect x="1422.1" y="121.5" width="40.1" height="66.8" fill="#fff"/>
<line x1="1442.65" y1="123.5" x2="1442.65" y2="149" stroke="#b8169e" stroke-width="2.2"/>
<rect x="1426.5" y="126.7" width="32.3" height="19.2" rx="1" fill="#fff" stroke="#b8169e" stroke-width="2.8"/>
<line x1="1426.1" y1="136.3" x2="1459.2" y2="136.3" stroke="#b8169e" stroke-width="2.8"/>
<ellipse cx="1442.65" cy="136.3" rx="4" ry="4" fill="#c40aa8" opacity="0.85"/>
<line x1="1442.65" y1="152" x2="1442.65" y2="186.3" stroke="#46083e" stroke-width="2.2"/>
<rect x="1426.5" y="160.8" width="32.3" height="18.6" rx="1" fill="#fff" stroke="#46083e" stroke-width="2.8"/>
<line x1="1426.1" y1="170.1" x2="1459.2" y2="170.1" stroke="#46083e" stroke-width="2.8"/>
<ellipse cx="1442.65" cy="170.1" rx="4" ry="4" fill="#3a0633" opacity="0.85"/>
<text x="1473.22" y="143.6" font-size="29.69" font-weight="normal" textLength="145" lengthAdjust="spacingAndGlyphs" fill="#000">OM=  2.8%</text>
<text x="1473.23" y="180.9" font-size="30.62" font-weight="normal" textLength="145.13" lengthAdjust="spacingAndGlyphs" fill="#000">OM=15.8%</text>
<text x="846.9" y="39.9" font-size="40.77" font-weight="bold" textLength="47.34" lengthAdjust="spacingAndGlyphs" fill="#000">(B)</text>
<text x="956.8" y="55.9" font-size="33.54" font-weight="bold" textLength="371.39" lengthAdjust="spacingAndGlyphs" fill="#000">micro-HDPE (microbeads)</text>
<text x="900.13" y="96.8" font-size="36.15" font-weight="bold" textLength="40.91" lengthAdjust="spacingAndGlyphs" fill="#000">Cd</text>
<text x="1005.9" y="105" font-size="34.46" font-weight="bold" textLength="130.68" lengthAdjust="spacingAndGlyphs" fill="#000">T= -4.0°C</text>
<text x="1225.8" y="104.4" font-size="33.54" font-weight="bold" textLength="137.24" lengthAdjust="spacingAndGlyphs" fill="#000">T= +4.0°C</text>
<text x="1451.7" y="104.7" font-size="33.69" font-weight="bold" textLength="155.73" lengthAdjust="spacingAndGlyphs" fill="#000">T= +18.0°C</text>
<text x="888.73" y="133.88" font-size="31.79" font-weight="normal" textLength="58.52" lengthAdjust="spacingAndGlyphs" fill="#000">1.25</text>
<text x="886.92" y="185.29" font-size="31.04" font-weight="normal" textLength="58.74" lengthAdjust="spacingAndGlyphs" fill="#000">1.00</text>
<text x="891.75" y="242.09" font-size="31.34" font-weight="normal" textLength="57.26" lengthAdjust="spacingAndGlyphs" fill="#000">0.75</text>
<text x="894.06" y="297.58" font-size="31.64" font-weight="normal" textLength="56.37" lengthAdjust="spacingAndGlyphs" fill="#000">0.50</text>
<text x="887.86" y="348.69" font-size="31.34" font-weight="normal" textLength="56.73" lengthAdjust="spacingAndGlyphs" fill="#000">0.25</text>
<text x="894.06" y="396.9" font-size="30.45" font-weight="normal" textLength="56.37" lengthAdjust="spacingAndGlyphs" fill="#000">0.00</text>
<text x="883.22" y="448.19" font-size="31.49" font-weight="normal" textLength="68.23" lengthAdjust="spacingAndGlyphs" fill="#000">-0.25</text>
<text x="971.55" y="484.99" font-size="31.04" font-weight="normal" textLength="42.74" lengthAdjust="spacingAndGlyphs" fill="#000">0-2</text>
<text x="1036.48" y="485" font-size="29.71" font-weight="normal" textLength="43.43" lengthAdjust="spacingAndGlyphs" fill="#000">3-8</text>
<text x="1100.46" y="485.3" font-size="31.52" font-weight="normal" textLength="76.27" lengthAdjust="spacingAndGlyphs" fill="#000">12-21</text>
<text x="1203.25" y="484.99" font-size="31.04" font-weight="normal" textLength="42.63" lengthAdjust="spacingAndGlyphs" fill="#000">0-2</text>
<text x="1268.69" y="485" font-size="29.71" font-weight="normal" textLength="43.21" lengthAdjust="spacingAndGlyphs" fill="#000">3-8</text>
<text x="1333.08" y="485.3" font-size="31.52" font-weight="normal" textLength="75.63" lengthAdjust="spacingAndGlyphs" fill="#000">12-21</text>
<text x="1436.36" y="484.99" font-size="31.04" font-weight="normal" textLength="42" lengthAdjust="spacingAndGlyphs" fill="#000">0-2</text>
<text x="1501.1" y="485" font-size="29.71" font-weight="normal" textLength="42.79" lengthAdjust="spacingAndGlyphs" fill="#000">3-8</text>
<text x="1556.67" y="485.3" font-size="31.52" font-weight="normal" textLength="75.84" lengthAdjust="spacingAndGlyphs" fill="#000">12-21</text>
<text x="1195.25" y="527.8" font-size="34.77" font-weight="normal" textLength="196.38" lengthAdjust="spacingAndGlyphs" fill="#000">Time (month)</text>
<text transform="translate(875.5 440.63) rotate(-90)" x="0" y="0" font-size="33.75" textLength="295.84" lengthAdjust="spacingAndGlyphs" style="stroke-width:0.15px">log{Ksed-wp/Kpl-wp}</text>
<line x1="125.6" y1="716" x2="337.8" y2="716" stroke="#d7d7d7" stroke-width="2"/>
<line x1="125.6" y1="767.16" x2="337.8" y2="767.16" stroke="#d7d7d7" stroke-width="2"/>
<line x1="125.6" y1="818.32" x2="337.8" y2="818.32" stroke="#d7d7d7" stroke-width="2"/>
<line x1="125.6" y1="869.48" x2="337.8" y2="869.48" stroke="#d7d7d7" stroke-width="2"/>
<line x1="125.6" y1="920.64" x2="337.8" y2="920.64" stroke="#d7d7d7" stroke-width="2"/>
<line x1="125.6" y1="1022.96" x2="337.8" y2="1022.96" stroke="#d7d7d7" stroke-width="2"/>
<line x1="161.8" y1="705.7" x2="161.8" y2="1033.5" stroke="#d7d7d7" stroke-width="2"/>
<line x1="231.3" y1="705.7" x2="231.3" y2="1033.5" stroke="#d7d7d7" stroke-width="2"/>
<line x1="300.5" y1="705.7" x2="300.5" y2="1033.5" stroke="#d7d7d7" stroke-width="2"/>
<line x1="120.6" y1="971.8" x2="342.8" y2="971.8" stroke="#5a5a5a" stroke-width="2.4"/>
<line x1="120.6" y1="700.6" x2="120.6" y2="1038.6" stroke="#545454" stroke-width="2.4"/>
<line x1="342.8" y1="700.6" x2="342.8" y2="1038.6" stroke="#545454" stroke-width="2.4"/>
<line x1="119.4" y1="701.7" x2="344" y2="701.7" stroke="#363636" stroke-width="2.1" stroke-linecap="round"/>
<line x1="119.4" y1="1037.5" x2="344" y2="1037.5" stroke="#363636" stroke-width="2.1" stroke-linecap="round"/>
<line x1="161.8" y1="1037.5" x2="161.8" y2="1042.5" stroke="#363636" stroke-width="1.8"/>
<line x1="231.3" y1="1037.5" x2="231.3" y2="1042.5" stroke="#363636" stroke-width="1.8"/>
<line x1="300.5" y1="1037.5" x2="300.5" y2="1042.5" stroke="#363636" stroke-width="1.8"/>
<line x1="116.6" y1="716" x2="121.6" y2="716" stroke="#363636" stroke-width="2"/>
<line x1="116.6" y1="767.16" x2="121.6" y2="767.16" stroke="#363636" stroke-width="2"/>
<line x1="116.6" y1="818.32" x2="121.6" y2="818.32" stroke="#363636" stroke-width="2"/>
<line x1="116.6" y1="869.48" x2="121.6" y2="869.48" stroke="#363636" stroke-width="2"/>
<line x1="116.6" y1="920.64" x2="121.6" y2="920.64" stroke="#363636" stroke-width="2"/>
<line x1="116.6" y1="971.8" x2="121.6" y2="971.8" stroke="#363636" stroke-width="2"/>
<line x1="116.6" y1="1022.96" x2="121.6" y2="1022.96" stroke="#363636" stroke-width="2"/>
<line x1="355.4" y1="716" x2="568.4" y2="716" stroke="#d7d7d7" stroke-width="2"/>
<line x1="355.4" y1="767.16" x2="568.4" y2="767.16" stroke="#d7d7d7" stroke-width="2"/>
<line x1="355.4" y1="818.32" x2="568.4" y2="818.32" stroke="#d7d7d7" stroke-width="2"/>
<line x1="355.4" y1="869.48" x2="568.4" y2="869.48" stroke="#d7d7d7" stroke-width="2"/>
<line x1="355.4" y1="920.64" x2="568.4" y2="920.64" stroke="#d7d7d7" stroke-width="2"/>
<line x1="355.4" y1="1022.96" x2="568.4" y2="1022.96" stroke="#d7d7d7" stroke-width="2"/>
<line x1="392.2" y1="705.7" x2="392.2" y2="1033.5" stroke="#d7d7d7" stroke-width="2"/>
<line x1="461.9" y1="705.7" x2="461.9" y2="1033.5" stroke="#d7d7d7" stroke-width="2"/>
<line x1="531.6" y1="705.7" x2="531.6" y2="1033.5" stroke="#d7d7d7" stroke-width="2"/>
<line x1="350.4" y1="971.8" x2="573.4" y2="971.8" stroke="#5a5a5a" stroke-width="2.4"/>
<line x1="350.4" y1="700.6" x2="350.4" y2="1038.6" stroke="#545454" stroke-width="2.4"/>
<line x1="573.4" y1="700.6" x2="573.4" y2="1038.6" stroke="#545454" stroke-width="2.4"/>
<line x1="349.2" y1="701.7" x2="574.6" y2="701.7" stroke="#363636" stroke-width="2.1" stroke-linecap="round"/>
<line x1="349.2" y1="1037.5" x2="574.6" y2="1037.5" stroke="#363636" stroke-width="2.1" stroke-linecap="round"/>
<line x1="392.2" y1="1037.5" x2="392.2" y2="1042.5" stroke="#363636" stroke-width="1.8"/>
<line x1="461.9" y1="1037.5" x2="461.9" y2="1042.5" stroke="#363636" stroke-width="1.8"/>
<line x1="531.6" y1="1037.5" x2="531.6" y2="1042.5" stroke="#363636" stroke-width="1.8"/>
<line x1="348.9" y1="716" x2="351.4" y2="716" stroke="#363636" stroke-width="2"/>
<line x1="348.9" y1="767.16" x2="351.4" y2="767.16" stroke="#363636" stroke-width="2"/>
<line x1="348.9" y1="818.32" x2="351.4" y2="818.32" stroke="#363636" stroke-width="2"/>
<line x1="348.9" y1="869.48" x2="351.4" y2="869.48" stroke="#363636" stroke-width="2"/>
<line x1="348.9" y1="920.64" x2="351.4" y2="920.64" stroke="#363636" stroke-width="2"/>
<line x1="348.9" y1="971.8" x2="351.4" y2="971.8" stroke="#363636" stroke-width="2"/>
<line x1="348.9" y1="1022.96" x2="351.4" y2="1022.96" stroke="#363636" stroke-width="2"/>
<line x1="586.4" y1="716" x2="798" y2="716" stroke="#d7d7d7" stroke-width="2"/>
<line x1="586.4" y1="767.16" x2="798" y2="767.16" stroke="#d7d7d7" stroke-width="2"/>
<line x1="586.4" y1="818.32" x2="798" y2="818.32" stroke="#d7d7d7" stroke-width="2"/>
<line x1="586.4" y1="869.48" x2="798" y2="869.48" stroke="#d7d7d7" stroke-width="2"/>
<line x1="586.4" y1="920.64" x2="798" y2="920.64" stroke="#d7d7d7" stroke-width="2"/>
<line x1="586.4" y1="1022.96" x2="798" y2="1022.96" stroke="#d7d7d7" stroke-width="2"/>
<line x1="623" y1="705.7" x2="623" y2="1033.5" stroke="#d7d7d7" stroke-width="2"/>
<line x1="693.1" y1="705.7" x2="693.1" y2="1033.5" stroke="#d7d7d7" stroke-width="2"/>
<line x1="762.5" y1="705.7" x2="762.5" y2="1033.5" stroke="#d7d7d7" stroke-width="2"/>
<line x1="581.4" y1="971.8" x2="803" y2="971.8" stroke="#5a5a5a" stroke-width="2.4"/>
<line x1="581.4" y1="700.6" x2="581.4" y2="1038.6" stroke="#545454" stroke-width="2.4"/>
<line x1="803" y1="700.6" x2="803" y2="1038.6" stroke="#545454" stroke-width="2.4"/>
<line x1="580.2" y1="701.7" x2="804.2" y2="701.7" stroke="#363636" stroke-width="2.1" stroke-linecap="round"/>
<line x1="580.2" y1="1037.5" x2="804.2" y2="1037.5" stroke="#363636" stroke-width="2.1" stroke-linecap="round"/>
<line x1="623" y1="1037.5" x2="623" y2="1042.5" stroke="#363636" stroke-width="1.8"/>
<line x1="693.1" y1="1037.5" x2="693.1" y2="1042.5" stroke="#363636" stroke-width="1.8"/>
<line x1="762.5" y1="1037.5" x2="762.5" y2="1042.5" stroke="#363636" stroke-width="1.8"/>
<line x1="579.9" y1="716" x2="582.4" y2="716" stroke="#363636" stroke-width="2"/>
<line x1="579.9" y1="767.16" x2="582.4" y2="767.16" stroke="#363636" stroke-width="2"/>
<line x1="579.9" y1="818.32" x2="582.4" y2="818.32" stroke="#363636" stroke-width="2"/>
<line x1="579.9" y1="869.48" x2="582.4" y2="869.48" stroke="#363636" stroke-width="2"/>
<line x1="579.9" y1="920.64" x2="582.4" y2="920.64" stroke="#363636" stroke-width="2"/>
<line x1="579.9" y1="971.8" x2="582.4" y2="971.8" stroke="#363636" stroke-width="2"/>
<line x1="579.9" y1="1022.96" x2="582.4" y2="1022.96" stroke="#363636" stroke-width="2"/>
<line x1="149.1" y1="813.9" x2="149.1" y2="818.8" stroke="#b8169e" stroke-width="1.9"/>
<line x1="149.1" y1="832.1" x2="149.1" y2="836.7" stroke="#b8169e" stroke-width="1.9"/>
<path d="M146.5 815 Q148.2 818.8 148.4 822.3 L149.8 822.3 Q150 818.8 151.7 815 Z" fill="#c40aa8"/>
<ellipse cx="149.1" cy="813.8" rx="3.3" ry="3.9" fill="#c40aa8"/>
<path d="M146.5 835.6 Q148.2 831.8 148.4 828.3 L149.8 828.3 Q150 831.8 151.7 835.6 Z" fill="#c40aa8"/>
<ellipse cx="149.1" cy="836.8" rx="3.3" ry="3.9" fill="#c40aa8"/>
<rect x="137" y="819.9" width="24.2" height="11.1" rx="1" fill="#fff" stroke="#b8169e" stroke-width="2.2"/>
<line x1="137" y1="827.8" x2="161.2" y2="827.8" stroke="#c40aa8" stroke-width="3"/>
<ellipse cx="149.1" cy="827.8" rx="3.3" ry="3.6" fill="#c40aa8"/>
<line x1="175.2" y1="875.7" x2="175.2" y2="878.5" stroke="#46083e" stroke-width="1.9"/>
<line x1="175.2" y1="886.7" x2="175.2" y2="887.4" stroke="#46083e" stroke-width="1.9"/>
<path d="M172.6 876.8 Q174.3 880.6 174.5 884.1 L175.9 884.1 Q176.1 880.6 177.8 876.8 Z" fill="#3a0633"/>
<ellipse cx="175.2" cy="875.6" rx="3.3" ry="3.9" fill="#3a0633"/>
<path d="M172.6 886.3 Q174.3 882.5 174.5 879 L175.9 879 Q176.1 882.5 177.8 886.3 Z" fill="#3a0633"/>
<ellipse cx="175.2" cy="887.5" rx="3.3" ry="3.9" fill="#3a0633"/>
<rect x="163.1" y="879.6" width="24.2" height="6" rx="1" fill="#fff" stroke="#46083e" stroke-width="2.2"/>
<line x1="163.1" y1="883.6" x2="187.3" y2="883.6" stroke="#3a0633" stroke-width="3"/>
<ellipse cx="175.2" cy="883.6" rx="3.3" ry="3.6" fill="#3a0633"/>
<rect x="205.3" y="837" width="26.4" height="5.6" rx="2.5" fill="#c00aa2"/>
<rect x="215.3" y="833.3" width="6.4" height="12.9" rx="3.2" fill="#c00aa2"/>
<ellipse cx="218.5" cy="839.8" rx="2.6" ry="3.2" fill="#c40aa8" opacity="0.6"/>
<rect x="231.4" y="888" width="26.4" height="5.6" rx="2.5" fill="#2a0025"/>
<rect x="241.4" y="884.9" width="6.4" height="12.1" rx="3.2" fill="#2a0025"/>
<ellipse cx="244.6" cy="890.8" rx="2.6" ry="3.2" fill="#3a0633" opacity="0.6"/>
<rect x="274.65" y="838.5" width="26.4" height="5.6" rx="2.5" fill="#c00aa2"/>
<rect x="284.65" y="834.8" width="6.4" height="12.9" rx="3.2" fill="#c00aa2"/>
<ellipse cx="287.85" cy="841.3" rx="2.6" ry="3.2" fill="#c40aa8" opacity="0.6"/>
<rect x="300.75" y="887.1" width="26.4" height="5.6" rx="2.5" fill="#2a0025"/>
<rect x="310.75" y="884" width="6.4" height="13" rx="3.2" fill="#2a0025"/>
<ellipse cx="313.95" cy="889.9" rx="2.6" ry="3.2" fill="#3a0633" opacity="0.6"/>
<line x1="379.4" y1="814.8" x2="379.4" y2="822.1" stroke="#b8169e" stroke-width="1.9"/>
<line x1="379.4" y1="854.5" x2="379.4" y2="857.5" stroke="#b8169e" stroke-width="1.9"/>
<path d="M376.8 815.9 Q378.5 819.7 378.7 823.2 L380.1 823.2 Q380.3 819.7 382 815.9 Z" fill="#c40aa8"/>
<ellipse cx="379.4" cy="814.7" rx="3.3" ry="3.9" fill="#c40aa8"/>
<path d="M376.8 856.4 Q378.5 852.6 378.7 849.1 L380.1 849.1 Q380.3 852.6 382 856.4 Z" fill="#c40aa8"/>
<ellipse cx="379.4" cy="857.6" rx="3.3" ry="3.9" fill="#c40aa8"/>
<rect x="367.3" y="823.2" width="24.2" height="30.2" rx="1" fill="#fff" stroke="#b8169e" stroke-width="2.2"/>
<rect x="370.6" y="826.8" width="17.6" height="16.8" fill="#e1e1e1"/>
<line x1="367.3" y1="848.1" x2="391.5" y2="848.1" stroke="#c40aa8" stroke-width="3"/>
<ellipse cx="379.4" cy="848.1" rx="3.3" ry="3.6" fill="#c40aa8"/>
<line x1="405.65" y1="876.6" x2="405.65" y2="879.3" stroke="#46083e" stroke-width="1.9"/>
<line x1="405.65" y1="891.2" x2="405.65" y2="894" stroke="#46083e" stroke-width="1.9"/>
<path d="M403.05 877.7 Q404.75 881.5 404.95 885 L406.35 885 Q406.55 881.5 408.25 877.7 Z" fill="#3a0633"/>
<ellipse cx="405.65" cy="876.5" rx="3.3" ry="3.9" fill="#3a0633"/>
<path d="M403.05 892.9 Q404.75 889.1 404.95 885.6 L406.35 885.6 Q406.55 889.1 408.25 892.9 Z" fill="#3a0633"/>
<ellipse cx="405.65" cy="894.1" rx="3.3" ry="3.9" fill="#3a0633"/>
<rect x="393.55" y="880.4" width="24.2" height="9.7" rx="1" fill="#fff" stroke="#46083e" stroke-width="2.2"/>
<line x1="393.55" y1="887.5" x2="417.75" y2="887.5" stroke="#3a0633" stroke-width="3"/>
<ellipse cx="405.65" cy="887.5" rx="3.3" ry="3.6" fill="#3a0633"/>
<rect x="435.7" y="863.2" width="26.4" height="5.6" rx="2.5" fill="#c00aa2"/>
<rect x="445.7" y="859.5" width="6.4" height="15" rx="3.2" fill="#c00aa2"/>
<ellipse cx="448.9" cy="866" rx="2.6" ry="3.2" fill="#c40aa8" opacity="0.6"/>
<rect x="461.85" y="896.1" width="26.4" height="5.6" rx="2.5" fill="#2a0025"/>
<rect x="471.85" y="891.5" width="6.4" height="15.9" rx="3.2" fill="#2a0025"/>
<ellipse cx="475.05" cy="898.9" rx="2.6" ry="3.2" fill="#3a0633" opacity="0.6"/>
<rect x="504.95" y="870.4" width="26.4" height="5.6" rx="2.5" fill="#c00aa2"/>
<rect x="514.95" y="867.5" width="6.4" height="11.6" rx="3.2" fill="#c00aa2"/>
<ellipse cx="518.15" cy="873.2" rx="2.6" ry="3.2" fill="#c40aa8" opacity="0.6"/>
<rect x="531.2" y="900.5" width="26.4" height="5.6" rx="2.5" fill="#2a0025"/>
<rect x="541.2" y="896" width="6.4" height="14.4" rx="3.2" fill="#2a0025"/>
<ellipse cx="544.4" cy="903.3" rx="2.6" ry="3.2" fill="#3a0633" opacity="0.6"/>
<line x1="610.15" y1="814.8" x2="610.15" y2="827.1" stroke="#b8169e" stroke-width="1.9"/>
<line x1="610.15" y1="877.8" x2="610.15" y2="884.4" stroke="#b8169e" stroke-width="1.9"/>
<path d="M607.55 815.9 Q609.25 819.7 609.45 823.2 L610.85 823.2 Q611.05 819.7 612.75 815.9 Z" fill="#c40aa8"/>
<ellipse cx="610.15" cy="814.7" rx="3.3" ry="3.9" fill="#c40aa8"/>
<path d="M607.55 883.3 Q609.25 879.5 609.45 876 L610.85 876 Q611.05 879.5 612.75 883.3 Z" fill="#c40aa8"/>
<ellipse cx="610.15" cy="884.5" rx="3.3" ry="3.9" fill="#c40aa8"/>
<rect x="598.05" y="828.2" width="24.2" height="48.5" rx="1" fill="#fff" stroke="#b8169e" stroke-width="2.2"/>
<rect x="601.35" y="831.8" width="17.6" height="26.7" fill="#e1e1e1"/>
<line x1="598.05" y1="863" x2="622.25" y2="863" stroke="#c40aa8" stroke-width="3"/>
<ellipse cx="610.15" cy="863" rx="3.3" ry="3.6" fill="#c40aa8"/>
<line x1="636.4" y1="875.1" x2="636.4" y2="885.9" stroke="#46083e" stroke-width="1.9"/>
<line x1="636.4" y1="923.1" x2="636.4" y2="926.8" stroke="#46083e" stroke-width="1.9"/>
<path d="M633.8 876.2 Q635.5 880 635.7 883.5 L637.1 883.5 Q637.3 880 639 876.2 Z" fill="#3a0633"/>
<ellipse cx="636.4" cy="875" rx="3.3" ry="3.9" fill="#3a0633"/>
<path d="M633.8 925.7 Q635.5 921.9 635.7 918.4 L637.1 918.4 Q637.3 921.9 639 925.7 Z" fill="#3a0633"/>
<ellipse cx="636.4" cy="926.9" rx="3.3" ry="3.9" fill="#3a0633"/>
<rect x="624.3" y="887" width="24.2" height="35" rx="1" fill="#fff" stroke="#46083e" stroke-width="2.2"/>
<rect x="627.6" y="890.6" width="17.6" height="21.4" fill="#e1e1e1"/>
<line x1="624.3" y1="916.5" x2="648.5" y2="916.5" stroke="#3a0633" stroke-width="3"/>
<ellipse cx="636.4" cy="916.5" rx="3.3" ry="3.6" fill="#3a0633"/>
<rect x="666.3" y="893.1" width="26.4" height="5.6" rx="2.5" fill="#c00aa2"/>
<rect x="676.3" y="887" width="6.4" height="18.9" rx="3.2" fill="#c00aa2"/>
<ellipse cx="679.5" cy="895.9" rx="2.6" ry="3.2" fill="#c40aa8" opacity="0.6"/>
<rect x="692.45" y="934.5" width="26.4" height="5.6" rx="2.5" fill="#2a0025"/>
<rect x="702.45" y="929.7" width="6.4" height="18" rx="3.2" fill="#2a0025"/>
<ellipse cx="705.65" cy="937.3" rx="2.6" ry="3.2" fill="#3a0633" opacity="0.6"/>
<rect x="735.7" y="903.5" width="26.4" height="5.6" rx="2.5" fill="#c00aa2"/>
<rect x="745.7" y="901" width="6.4" height="12.4" rx="3.2" fill="#c00aa2"/>
<ellipse cx="748.9" cy="906.3" rx="2.6" ry="3.2" fill="#c40aa8" opacity="0.6"/>
<rect x="761.8" y="949.8" width="26.4" height="5.6" rx="2.5" fill="#2a0025"/>
<rect x="771.8" y="945.2" width="6.4" height="17.4" rx="3.2" fill="#2a0025"/>
<ellipse cx="775" cy="952.6" rx="2.6" ry="3.2" fill="#3a0633" opacity="0.6"/>
<text x="17.6" y="627.5" font-size="40.31" font-weight="bold" textLength="48" lengthAdjust="spacingAndGlyphs" fill="#000">(C)</text>
<text x="121.84" y="643.75" font-size="33.62" font-weight="bold" textLength="383.38" lengthAdjust="spacingAndGlyphs" fill="#000">macro-PETE  (textile fabric)</text>
<text x="71.44" y="684.2" font-size="36.15" font-weight="bold" textLength="40.38" lengthAdjust="spacingAndGlyphs" fill="#000">Cd</text>
<text x="173" y="690.6" font-size="33.85" font-weight="bold" textLength="130.68" lengthAdjust="spacingAndGlyphs" fill="#000">T= -4.0°C</text>
<text x="392.8" y="690.4" font-size="33.85" font-weight="bold" textLength="137.74" lengthAdjust="spacingAndGlyphs" fill="#000">T= +4.0°C</text>
<text x="611" y="690.4" font-size="33.85" font-weight="bold" textLength="155.33" lengthAdjust="spacingAndGlyphs" fill="#000">T= +18.0°C</text>
<text x="47.47" y="729.89" font-size="31.34" font-weight="normal" textLength="57.76" lengthAdjust="spacingAndGlyphs" fill="#000">1.25</text>
<text x="49.25" y="773.08" font-size="31.94" font-weight="normal" textLength="58.1" lengthAdjust="spacingAndGlyphs" fill="#000">1.00</text>
<text x="50.35" y="831.39" font-size="31.34" font-weight="normal" textLength="57.36" lengthAdjust="spacingAndGlyphs" fill="#000">0.75</text>
<text x="48.45" y="884.89" font-size="31.34" font-weight="normal" textLength="57.6" lengthAdjust="spacingAndGlyphs" fill="#000">0.50</text>
<text x="48.45" y="929.59" font-size="30.75" font-weight="normal" textLength="57.36" lengthAdjust="spacingAndGlyphs" fill="#000">0.25</text>
<text x="50.36" y="980.69" font-size="31.34" font-weight="normal" textLength="56.98" lengthAdjust="spacingAndGlyphs" fill="#000">0.00</text>
<text x="39.61" y="1031.89" font-size="31.04" font-weight="normal" textLength="68.44" lengthAdjust="spacingAndGlyphs" fill="#000">-0.25</text>
<text x="136.45" y="1072.59" font-size="31.34" font-weight="normal" textLength="42.63" lengthAdjust="spacingAndGlyphs" fill="#000">0-2</text>
<text x="201.29" y="1072.6" font-size="30" font-weight="normal" textLength="43.32" lengthAdjust="spacingAndGlyphs" fill="#000">3-8</text>
<text x="265.46" y="1072.9" font-size="31.82" font-weight="normal" textLength="76.27" lengthAdjust="spacingAndGlyphs" fill="#000">12-21</text>
<text x="364.26" y="1072.59" font-size="31.34" font-weight="normal" textLength="42" lengthAdjust="spacingAndGlyphs" fill="#000">0-2</text>
<text x="429.17" y="1072.6" font-size="30" font-weight="normal" textLength="43.75" lengthAdjust="spacingAndGlyphs" fill="#000">3-8</text>
<text x="493.57" y="1072.9" font-size="31.82" font-weight="normal" textLength="75.95" lengthAdjust="spacingAndGlyphs" fill="#000">12-21</text>
<text x="598.65" y="1072.59" font-size="31.34" font-weight="normal" textLength="42.63" lengthAdjust="spacingAndGlyphs" fill="#000">0-2</text>
<text x="663.57" y="1072.6" font-size="30" font-weight="normal" textLength="43.75" lengthAdjust="spacingAndGlyphs" fill="#000">3-8</text>
<text x="729.79" y="1072.9" font-size="31.82" font-weight="normal" textLength="75.42" lengthAdjust="spacingAndGlyphs" fill="#000">12-21</text>
<text x="365.94" y="1115.2" font-size="34.15" font-weight="normal" textLength="196.98" lengthAdjust="spacingAndGlyphs" fill="#000">Time (month)</text>
<text transform="translate(38.3 1014.64) rotate(-90)" x="0" y="0" font-size="31.94" textLength="297.16" lengthAdjust="spacingAndGlyphs" style="stroke-width:0.15px">log{Ksed-wp/Kpl-wp}</text>
<line x1="973.2" y1="716" x2="1181.8" y2="716" stroke="#d7d7d7" stroke-width="2"/>
<line x1="973.2" y1="767.14" x2="1181.8" y2="767.14" stroke="#d7d7d7" stroke-width="2"/>
<line x1="973.2" y1="818.28" x2="1181.8" y2="818.28" stroke="#d7d7d7" stroke-width="2"/>
<line x1="973.2" y1="869.42" x2="1181.8" y2="869.42" stroke="#d7d7d7" stroke-width="2"/>
<line x1="973.2" y1="920.56" x2="1181.8" y2="920.56" stroke="#d7d7d7" stroke-width="2"/>
<line x1="973.2" y1="1022.84" x2="1181.8" y2="1022.84" stroke="#d7d7d7" stroke-width="2"/>
<line x1="1008.6" y1="706.2" x2="1008.6" y2="1033" stroke="#d7d7d7" stroke-width="2"/>
<line x1="1077" y1="706.2" x2="1077" y2="1033" stroke="#d7d7d7" stroke-width="2"/>
<line x1="1145.6" y1="706.2" x2="1145.6" y2="1033" stroke="#d7d7d7" stroke-width="2"/>
<line x1="968.2" y1="971.7" x2="1186.8" y2="971.7" stroke="#5a5a5a" stroke-width="2.4"/>
<line x1="968.2" y1="701.1" x2="968.2" y2="1038.1" stroke="#545454" stroke-width="2.4"/>
<line x1="1186.8" y1="701.1" x2="1186.8" y2="1038.1" stroke="#545454" stroke-width="2.4"/>
<line x1="967" y1="702.2" x2="1188" y2="702.2" stroke="#363636" stroke-width="2.1" stroke-linecap="round"/>
<line x1="967" y1="1037" x2="1188" y2="1037" stroke="#363636" stroke-width="2.1" stroke-linecap="round"/>
<line x1="1008.6" y1="1037" x2="1008.6" y2="1042" stroke="#363636" stroke-width="1.8"/>
<line x1="1077" y1="1037" x2="1077" y2="1042" stroke="#363636" stroke-width="1.8"/>
<line x1="1145.6" y1="1037" x2="1145.6" y2="1042" stroke="#363636" stroke-width="1.8"/>
<line x1="964.2" y1="716" x2="969.2" y2="716" stroke="#363636" stroke-width="2"/>
<line x1="964.2" y1="767.14" x2="969.2" y2="767.14" stroke="#363636" stroke-width="2"/>
<line x1="964.2" y1="818.28" x2="969.2" y2="818.28" stroke="#363636" stroke-width="2"/>
<line x1="964.2" y1="869.42" x2="969.2" y2="869.42" stroke="#363636" stroke-width="2"/>
<line x1="964.2" y1="920.56" x2="969.2" y2="920.56" stroke="#363636" stroke-width="2"/>
<line x1="964.2" y1="971.7" x2="969.2" y2="971.7" stroke="#363636" stroke-width="2"/>
<line x1="964.2" y1="1022.84" x2="969.2" y2="1022.84" stroke="#363636" stroke-width="2"/>
<line x1="1199.7" y1="716" x2="1408.7" y2="716" stroke="#d7d7d7" stroke-width="2"/>
<line x1="1199.7" y1="767.14" x2="1408.7" y2="767.14" stroke="#d7d7d7" stroke-width="2"/>
<line x1="1199.7" y1="818.28" x2="1408.7" y2="818.28" stroke="#d7d7d7" stroke-width="2"/>
<line x1="1199.7" y1="869.42" x2="1408.7" y2="869.42" stroke="#d7d7d7" stroke-width="2"/>
<line x1="1199.7" y1="920.56" x2="1408.7" y2="920.56" stroke="#d7d7d7" stroke-width="2"/>
<line x1="1199.7" y1="1022.84" x2="1408.7" y2="1022.84" stroke="#d7d7d7" stroke-width="2"/>
<line x1="1235.5" y1="706.2" x2="1235.5" y2="1033" stroke="#d7d7d7" stroke-width="2"/>
<line x1="1305" y1="706.2" x2="1305" y2="1033" stroke="#d7d7d7" stroke-width="2"/>
<line x1="1372.8" y1="706.2" x2="1372.8" y2="1033" stroke="#d7d7d7" stroke-width="2"/>
<line x1="1194.7" y1="971.7" x2="1413.7" y2="971.7" stroke="#5a5a5a" stroke-width="2.4"/>
<line x1="1194.7" y1="701.1" x2="1194.7" y2="1038.1" stroke="#545454" stroke-width="2.4"/>
<line x1="1413.7" y1="701.1" x2="1413.7" y2="1038.1" stroke="#545454" stroke-width="2.4"/>
<line x1="1193.5" y1="702.2" x2="1414.9" y2="702.2" stroke="#363636" stroke-width="2.1" stroke-linecap="round"/>
<line x1="1193.5" y1="1037" x2="1414.9" y2="1037" stroke="#363636" stroke-width="2.1" stroke-linecap="round"/>
<line x1="1235.5" y1="1037" x2="1235.5" y2="1042" stroke="#363636" stroke-width="1.8"/>
<line x1="1305" y1="1037" x2="1305" y2="1042" stroke="#363636" stroke-width="1.8"/>
<line x1="1372.8" y1="1037" x2="1372.8" y2="1042" stroke="#363636" stroke-width="1.8"/>
<line x1="1193.2" y1="716" x2="1195.7" y2="716" stroke="#363636" stroke-width="2"/>
<line x1="1193.2" y1="767.14" x2="1195.7" y2="767.14" stroke="#363636" stroke-width="2"/>
<line x1="1193.2" y1="818.28" x2="1195.7" y2="818.28" stroke="#363636" stroke-width="2"/>
<line x1="1193.2" y1="869.42" x2="1195.7" y2="869.42" stroke="#363636" stroke-width="2"/>
<line x1="1193.2" y1="920.56" x2="1195.7" y2="920.56" stroke="#363636" stroke-width="2"/>
<line x1="1193.2" y1="971.7" x2="1195.7" y2="971.7" stroke="#363636" stroke-width="2"/>
<line x1="1193.2" y1="1022.84" x2="1195.7" y2="1022.84" stroke="#363636" stroke-width="2"/>
<line x1="1426.6" y1="716" x2="1635.8" y2="716" stroke="#d7d7d7" stroke-width="2"/>
<line x1="1426.6" y1="767.14" x2="1635.8" y2="767.14" stroke="#d7d7d7" stroke-width="2"/>
<line x1="1426.6" y1="818.28" x2="1635.8" y2="818.28" stroke="#d7d7d7" stroke-width="2"/>
<line x1="1426.6" y1="869.42" x2="1635.8" y2="869.42" stroke="#d7d7d7" stroke-width="2"/>
<line x1="1426.6" y1="920.56" x2="1635.8" y2="920.56" stroke="#d7d7d7" stroke-width="2"/>
<line x1="1426.6" y1="1022.84" x2="1635.8" y2="1022.84" stroke="#d7d7d7" stroke-width="2"/>
<line x1="1463.3" y1="706.2" x2="1463.3" y2="1033" stroke="#d7d7d7" stroke-width="2"/>
<line x1="1531.7" y1="706.2" x2="1531.7" y2="1033" stroke="#d7d7d7" stroke-width="2"/>
<line x1="1600.3" y1="706.2" x2="1600.3" y2="1033" stroke="#d7d7d7" stroke-width="2"/>
<line x1="1421.6" y1="971.7" x2="1640.8" y2="971.7" stroke="#5a5a5a" stroke-width="2.4"/>
<line x1="1421.6" y1="701.1" x2="1421.6" y2="1038.1" stroke="#545454" stroke-width="2.4"/>
<line x1="1640.8" y1="701.1" x2="1640.8" y2="1038.1" stroke="#545454" stroke-width="2.4"/>
<line x1="1420.4" y1="702.2" x2="1642" y2="702.2" stroke="#363636" stroke-width="2.1" stroke-linecap="round"/>
<line x1="1420.4" y1="1037" x2="1642" y2="1037" stroke="#363636" stroke-width="2.1" stroke-linecap="round"/>
<line x1="1463.3" y1="1037" x2="1463.3" y2="1042" stroke="#363636" stroke-width="1.8"/>
<line x1="1531.7" y1="1037" x2="1531.7" y2="1042" stroke="#363636" stroke-width="1.8"/>
<line x1="1600.3" y1="1037" x2="1600.3" y2="1042" stroke="#363636" stroke-width="1.8"/>
<line x1="1420.1" y1="716" x2="1422.6" y2="716" stroke="#363636" stroke-width="2"/>
<line x1="1420.1" y1="767.14" x2="1422.6" y2="767.14" stroke="#363636" stroke-width="2"/>
<line x1="1420.1" y1="818.28" x2="1422.6" y2="818.28" stroke="#363636" stroke-width="2"/>
<line x1="1420.1" y1="869.42" x2="1422.6" y2="869.42" stroke="#363636" stroke-width="2"/>
<line x1="1420.1" y1="920.56" x2="1422.6" y2="920.56" stroke="#363636" stroke-width="2"/>
<line x1="1420.1" y1="971.7" x2="1422.6" y2="971.7" stroke="#363636" stroke-width="2"/>
<line x1="1420.1" y1="1022.84" x2="1422.6" y2="1022.84" stroke="#363636" stroke-width="2"/>
<line x1="996.25" y1="790.7" x2="996.25" y2="800.8" stroke="#b8169e" stroke-width="1.9"/>
<line x1="996.25" y1="822.4" x2="996.25" y2="822.8" stroke="#b8169e" stroke-width="1.9"/>
<path d="M993.65 791.8 Q995.35 795.6 995.55 799.1 L996.95 799.1 Q997.15 795.6 998.85 791.8 Z" fill="#c40aa8"/>
<ellipse cx="996.25" cy="790.6" rx="3.3" ry="3.9" fill="#c40aa8"/>
<path d="M993.65 821.7 Q995.35 817.9 995.55 814.4 L996.95 814.4 Q997.15 817.9 998.85 821.7 Z" fill="#c40aa8"/>
<ellipse cx="996.25" cy="822.9" rx="3.3" ry="3.9" fill="#c40aa8"/>
<rect x="984.45" y="801.9" width="23.6" height="19.4" rx="1" fill="#fff" stroke="#b8169e" stroke-width="2.2"/>
<rect x="987.75" y="805.5" width="17" height="9.7" fill="#e1e1e1"/>
<line x1="984.45" y1="819.7" x2="1008.05" y2="819.7" stroke="#c40aa8" stroke-width="3"/>
<ellipse cx="996.25" cy="819.7" rx="3.3" ry="3.6" fill="#c40aa8"/>
<line x1="1021.65" y1="851.7" x2="1021.65" y2="858.4" stroke="#46083e" stroke-width="1.9"/>
<line x1="1021.65" y1="876.2" x2="1021.65" y2="878.6" stroke="#46083e" stroke-width="1.9"/>
<path d="M1019.05 852.8 Q1020.75 856.6 1020.95 860.1 L1022.35 860.1 Q1022.55 856.6 1024.25 852.8 Z" fill="#3a0633"/>
<ellipse cx="1021.65" cy="851.6" rx="3.3" ry="3.9" fill="#3a0633"/>
<path d="M1019.05 877.5 Q1020.75 873.7 1020.95 870.2 L1022.35 870.2 Q1022.55 873.7 1024.25 877.5 Z" fill="#3a0633"/>
<ellipse cx="1021.65" cy="878.7" rx="3.3" ry="3.9" fill="#3a0633"/>
<rect x="1009.85" y="859.5" width="23.6" height="15.6" rx="1" fill="#fff" stroke="#46083e" stroke-width="2.2"/>
<line x1="1009.85" y1="873" x2="1033.45" y2="873" stroke="#3a0633" stroke-width="3"/>
<ellipse cx="1021.65" cy="873" rx="3.3" ry="3.6" fill="#3a0633"/>
<rect x="1051.6" y="845.3" width="25.8" height="5.6" rx="2.5" fill="#c00aa2"/>
<rect x="1061.3" y="839.3" width="6.4" height="18.9" rx="3.2" fill="#c00aa2"/>
<ellipse cx="1064.5" cy="848.1" rx="2.6" ry="3.2" fill="#c40aa8" opacity="0.6"/>
<rect x="1077.25" y="882.3" width="25.8" height="5.6" rx="2.5" fill="#2a0025"/>
<rect x="1086.95" y="878.1" width="6.4" height="15.9" rx="3.2" fill="#2a0025"/>
<ellipse cx="1090.15" cy="885.1" rx="2.6" ry="3.2" fill="#3a0633" opacity="0.6"/>
<rect x="1119.9" y="854" width="25.8" height="5.6" rx="2.5" fill="#c00aa2"/>
<rect x="1129.6" y="851.2" width="6.4" height="11.4" rx="3.2" fill="#c00aa2"/>
<ellipse cx="1132.8" cy="856.8" rx="2.6" ry="3.2" fill="#c40aa8" opacity="0.6"/>
<rect x="1145.85" y="887.7" width="25.8" height="5.6" rx="2.5" fill="#2a0025"/>
<rect x="1155.55" y="884" width="6.4" height="13" rx="3.2" fill="#2a0025"/>
<ellipse cx="1158.75" cy="890.5" rx="2.6" ry="3.2" fill="#3a0633" opacity="0.6"/>
<line x1="1223.15" y1="791.5" x2="1223.15" y2="801.8" stroke="#b8169e" stroke-width="1.9"/>
<line x1="1223.15" y1="841.4" x2="1223.15" y2="847.7" stroke="#b8169e" stroke-width="1.9"/>
<path d="M1220.55 792.6 Q1222.25 796.4 1222.45 799.9 L1223.85 799.9 Q1224.05 796.4 1225.75 792.6 Z" fill="#c40aa8"/>
<ellipse cx="1223.15" cy="791.4" rx="3.3" ry="3.9" fill="#c40aa8"/>
<path d="M1220.55 846.6 Q1222.25 842.8 1222.45 839.3 L1223.85 839.3 Q1224.05 842.8 1225.75 846.6 Z" fill="#c40aa8"/>
<ellipse cx="1223.15" cy="847.8" rx="3.3" ry="3.9" fill="#c40aa8"/>
<rect x="1211.35" y="802.9" width="23.6" height="37.4" rx="1" fill="#fff" stroke="#b8169e" stroke-width="2.2"/>
<rect x="1214.65" y="806.5" width="17" height="15.3" fill="#e1e1e1"/>
<line x1="1211.35" y1="826.3" x2="1234.95" y2="826.3" stroke="#c40aa8" stroke-width="3"/>
<ellipse cx="1223.15" cy="826.3" rx="3.3" ry="3.6" fill="#c40aa8"/>
<line x1="1248.65" y1="852.7" x2="1248.65" y2="859.4" stroke="#46083e" stroke-width="1.9"/>
<line x1="1248.65" y1="892.7" x2="1248.65" y2="900.8" stroke="#46083e" stroke-width="1.9"/>
<path d="M1246.05 853.8 Q1247.75 857.6 1247.95 861.1 L1249.35 861.1 Q1249.55 857.6 1251.25 853.8 Z" fill="#3a0633"/>
<ellipse cx="1248.65" cy="852.6" rx="3.3" ry="3.9" fill="#3a0633"/>
<path d="M1246.05 899.7 Q1247.75 895.9 1247.95 892.4 L1249.35 892.4 Q1249.55 895.9 1251.25 899.7 Z" fill="#3a0633"/>
<ellipse cx="1248.65" cy="900.9" rx="3.3" ry="3.9" fill="#3a0633"/>
<rect x="1236.85" y="860.5" width="23.6" height="31.1" rx="1" fill="#fff" stroke="#46083e" stroke-width="2.2"/>
<rect x="1240.15" y="878.6" width="17" height="9.4" fill="#e1e1e1"/>
<line x1="1236.85" y1="874.1" x2="1260.45" y2="874.1" stroke="#3a0633" stroke-width="3"/>
<ellipse cx="1248.65" cy="874.1" rx="3.3" ry="3.6" fill="#3a0633"/>
<line x1="1291.5" y1="868.5" x2="1291.5" y2="869.8" stroke="#b8169e" stroke-width="1.9"/>
<line x1="1291.5" y1="878.4" x2="1291.5" y2="879.6" stroke="#b8169e" stroke-width="1.9"/>
<path d="M1288.9 869.6 Q1290.6 873.4 1290.8 876.9 L1292.2 876.9 Q1292.4 873.4 1294.1 869.6 Z" fill="#c40aa8"/>
<ellipse cx="1291.5" cy="868.4" rx="3.3" ry="3.9" fill="#c40aa8"/>
<path d="M1288.9 878.5 Q1290.6 874.7 1290.8 871.2 L1292.2 871.2 Q1292.4 874.7 1294.1 878.5 Z" fill="#c40aa8"/>
<ellipse cx="1291.5" cy="879.7" rx="3.3" ry="3.9" fill="#c40aa8"/>
<rect x="1279.7" y="870.9" width="23.6" height="6.4" rx="1" fill="#fff" stroke="#b8169e" stroke-width="2.2"/>
<line x1="1279.7" y1="874.1" x2="1303.3" y2="874.1" stroke="#c40aa8" stroke-width="3"/>
<ellipse cx="1291.5" cy="874.1" rx="3.3" ry="3.6" fill="#c40aa8"/>
<rect x="1304.25" y="908" width="25.8" height="5.6" rx="2.5" fill="#2a0025"/>
<rect x="1313.95" y="901.9" width="6.4" height="17.4" rx="3.2" fill="#2a0025"/>
<ellipse cx="1317.15" cy="910.8" rx="2.6" ry="3.2" fill="#3a0633" opacity="0.6"/>
<rect x="1346.9" y="883.2" width="25.8" height="5.6" rx="2.5" fill="#c00aa2"/>
<rect x="1356.6" y="880.5" width="6.4" height="12" rx="3.2" fill="#c00aa2"/>
<ellipse cx="1359.8" cy="886" rx="2.6" ry="3.2" fill="#c40aa8" opacity="0.6"/>
<rect x="1373" y="919.6" width="25.8" height="5.6" rx="2.5" fill="#2a0025"/>
<rect x="1382.7" y="916" width="6.4" height="12.3" rx="3.2" fill="#2a0025"/>
<ellipse cx="1385.9" cy="922.4" rx="2.6" ry="3.2" fill="#3a0633" opacity="0.6"/>
<line x1="1450.65" y1="791.5" x2="1450.65" y2="804.7" stroke="#b8169e" stroke-width="1.9"/>
<line x1="1450.65" y1="860.5" x2="1450.65" y2="869.5" stroke="#b8169e" stroke-width="1.9"/>
<path d="M1448.05 792.6 Q1449.75 796.4 1449.95 799.9 L1451.35 799.9 Q1451.55 796.4 1453.25 792.6 Z" fill="#c40aa8"/>
<ellipse cx="1450.65" cy="791.4" rx="3.3" ry="3.9" fill="#c40aa8"/>
<path d="M1448.05 868.4 Q1449.75 864.6 1449.95 861.1 L1451.35 861.1 Q1451.55 864.6 1453.25 868.4 Z" fill="#c40aa8"/>
<ellipse cx="1450.65" cy="869.6" rx="3.3" ry="3.9" fill="#c40aa8"/>
<rect x="1438.85" y="805.8" width="23.6" height="53.6" rx="1" fill="#fff" stroke="#b8169e" stroke-width="2.2"/>
<rect x="1442.15" y="809.4" width="17" height="25" fill="#e1e1e1"/>
<rect x="1442.15" y="843.4" width="17" height="12.4" fill="#e1e1e1"/>
<line x1="1438.85" y1="838.9" x2="1462.45" y2="838.9" stroke="#c40aa8" stroke-width="3"/>
<ellipse cx="1450.65" cy="838.9" rx="3.3" ry="3.6" fill="#c40aa8"/>
<line x1="1476" y1="852.7" x2="1476" y2="868" stroke="#46083e" stroke-width="1.9"/>
<line x1="1476" y1="929.1" x2="1476" y2="935.7" stroke="#46083e" stroke-width="1.9"/>
<path d="M1473.4 853.8 Q1475.1 857.6 1475.3 861.1 L1476.7 861.1 Q1476.9 857.6 1478.6 853.8 Z" fill="#3a0633"/>
<ellipse cx="1476" cy="852.6" rx="3.3" ry="3.9" fill="#3a0633"/>
<path d="M1473.4 934.6 Q1475.1 930.8 1475.3 927.3 L1476.7 927.3 Q1476.9 930.8 1478.6 934.6 Z" fill="#3a0633"/>
<ellipse cx="1476" cy="935.8" rx="3.3" ry="3.9" fill="#3a0633"/>
<rect x="1464.2" y="869.1" width="23.6" height="58.9" rx="1" fill="#fff" stroke="#46083e" stroke-width="2.2"/>
<rect x="1467.5" y="872.7" width="17" height="33.6" fill="#e1e1e1"/>
<rect x="1467.5" y="915.3" width="17" height="9.1" fill="#e1e1e1"/>
<line x1="1464.2" y1="910.8" x2="1487.8" y2="910.8" stroke="#3a0633" stroke-width="3"/>
<ellipse cx="1476" cy="910.8" rx="3.3" ry="3.6" fill="#3a0633"/>
<line x1="1518.65" y1="899.6" x2="1518.65" y2="897.3" stroke="#b8169e" stroke-width="1.9"/>
<line x1="1518.65" y1="929.1" x2="1518.65" y2="928.3" stroke="#b8169e" stroke-width="1.9"/>
<path d="M1516.05 900.7 Q1517.75 904.5 1517.95 908 L1519.35 908 Q1519.55 904.5 1521.25 900.7 Z" fill="#c40aa8"/>
<ellipse cx="1518.65" cy="899.5" rx="3.3" ry="3.9" fill="#c40aa8"/>
<path d="M1516.05 927.2 Q1517.75 923.4 1517.95 919.9 L1519.35 919.9 Q1519.55 923.4 1521.25 927.2 Z" fill="#c40aa8"/>
<ellipse cx="1518.65" cy="928.4" rx="3.3" ry="3.9" fill="#c40aa8"/>
<rect x="1506.85" y="898.4" width="23.6" height="29.6" rx="1" fill="#fff" stroke="#b8169e" stroke-width="2.2"/>
<line x1="1506.85" y1="913.5" x2="1530.45" y2="913.5" stroke="#c40aa8" stroke-width="3"/>
<ellipse cx="1518.65" cy="913.5" rx="3.3" ry="3.6" fill="#c40aa8"/>
<line x1="1544.65" y1="961" x2="1544.65" y2="960.5" stroke="#46083e" stroke-width="1.9"/>
<line x1="1544.65" y1="980.7" x2="1544.65" y2="979.9" stroke="#46083e" stroke-width="1.9"/>
<path d="M1542.05 962.1 Q1543.75 965.9 1543.95 969.4 L1545.35 969.4 Q1545.55 965.9 1547.25 962.1 Z" fill="#3a0633"/>
<ellipse cx="1544.65" cy="960.9" rx="3.3" ry="3.9" fill="#3a0633"/>
<path d="M1542.05 978.8 Q1543.75 975 1543.95 971.5 L1545.35 971.5 Q1545.55 975 1547.25 978.8 Z" fill="#3a0633"/>
<ellipse cx="1544.65" cy="980" rx="3.3" ry="3.9" fill="#3a0633"/>
<rect x="1532.85" y="961.6" width="23.6" height="18" rx="1" fill="#fff" stroke="#46083e" stroke-width="2.2"/>
<line x1="1532.85" y1="970.5" x2="1556.45" y2="970.5" stroke="#3a0633" stroke-width="3"/>
<ellipse cx="1544.65" cy="970.5" rx="3.3" ry="3.6" fill="#3a0633"/>
<rect x="1574.25" y="931" width="25.8" height="5.6" rx="2.5" fill="#c00aa2"/>
<rect x="1583.95" y="929.7" width="6.4" height="9" rx="3.2" fill="#c00aa2"/>
<ellipse cx="1587.15" cy="933.8" rx="2.6" ry="3.2" fill="#c40aa8" opacity="0.6"/>
<rect x="1600.05" y="983.2" width="25.8" height="5.6" rx="2.5" fill="#2a0025"/>
<rect x="1609.75" y="980.4" width="6.4" height="12.1" rx="3.2" fill="#2a0025"/>
<ellipse cx="1612.95" cy="986" rx="2.6" ry="3.2" fill="#3a0633" opacity="0.6"/>
<rect x="1422.1" y="705.1" width="40.1" height="71" fill="#fff"/>
<line x1="1442.65" y1="707.1" x2="1442.65" y2="735.1" stroke="#b8169e" stroke-width="2.2"/>
<rect x="1426.5" y="710.4" width="32.3" height="19.2" rx="1" fill="#fff" stroke="#b8169e" stroke-width="2.8"/>
<line x1="1426.1" y1="720" x2="1459.2" y2="720" stroke="#b8169e" stroke-width="2.8"/>
<ellipse cx="1442.65" cy="720" rx="4" ry="4" fill="#c40aa8" opacity="0.85"/>
<line x1="1442.65" y1="739.2" x2="1442.65" y2="774.1" stroke="#46083e" stroke-width="2.2"/>
<rect x="1426.5" y="746.9" width="32.3" height="19.7" rx="1" fill="#fff" stroke="#46083e" stroke-width="2.8"/>
<line x1="1426.1" y1="756.75" x2="1459.2" y2="756.75" stroke="#46083e" stroke-width="2.8"/>
<ellipse cx="1442.65" cy="756.75" rx="4" ry="4" fill="#3a0633" opacity="0.85"/>
<text x="1474.64" y="727.3" font-size="30.15" font-weight="normal" textLength="143.07" lengthAdjust="spacingAndGlyphs" fill="#000">OM=  2.8%</text>
<text x="1470.83" y="763.8" font-size="29.69" font-weight="normal" textLength="145.64" lengthAdjust="spacingAndGlyphs" fill="#000">OM=15.8%</text>
<text x="846.84" y="627.3" font-size="40" font-weight="bold" textLength="51.35" lengthAdjust="spacingAndGlyphs" fill="#000">(D)</text>
<text x="965.09" y="643.75" font-size="33.62" font-weight="bold" textLength="485.22" lengthAdjust="spacingAndGlyphs" fill="#000">macro-HDPE (polyethylene chips)</text>
<text x="900.13" y="684.2" font-size="36.15" font-weight="bold" textLength="40.91" lengthAdjust="spacingAndGlyphs" fill="#000">Cd</text>
<text x="1005.6" y="692" font-size="33.85" font-weight="bold" textLength="131.68" lengthAdjust="spacingAndGlyphs" fill="#000">T= -4.0°C</text>
<text x="1234.8" y="691.7" font-size="33.85" font-weight="bold" textLength="136.54" lengthAdjust="spacingAndGlyphs" fill="#000">T= +4.0°C</text>
<text x="1452.2" y="691.7" font-size="33.85" font-weight="bold" textLength="154.63" lengthAdjust="spacingAndGlyphs" fill="#000">T= +18.0°C</text>
<text x="888.73" y="721.29" font-size="31.34" font-weight="normal" textLength="58.52" lengthAdjust="spacingAndGlyphs" fill="#000">1.25</text>
<text x="886.92" y="772.49" font-size="31.34" font-weight="normal" textLength="58.74" lengthAdjust="spacingAndGlyphs" fill="#000">1.00</text>
<text x="891.75" y="829.4" font-size="30.45" font-weight="normal" textLength="57.26" lengthAdjust="spacingAndGlyphs" fill="#000">0.75</text>
<text x="894.06" y="885.09" font-size="30.75" font-weight="normal" textLength="56.37" lengthAdjust="spacingAndGlyphs" fill="#000">0.50</text>
<text x="887.86" y="936.2" font-size="30.45" font-weight="normal" textLength="56.73" lengthAdjust="spacingAndGlyphs" fill="#000">0.25</text>
<text x="894.06" y="984.99" font-size="31.34" font-weight="normal" textLength="56.37" lengthAdjust="spacingAndGlyphs" fill="#000">0.00</text>
<text x="883.01" y="1035.69" font-size="30.6" font-weight="normal" textLength="68.65" lengthAdjust="spacingAndGlyphs" fill="#000">-0.25</text>
<text x="971.35" y="1072.59" font-size="31.34" font-weight="normal" textLength="43.16" lengthAdjust="spacingAndGlyphs" fill="#000">0-2</text>
<text x="1036.27" y="1072.6" font-size="30" font-weight="normal" textLength="43.75" lengthAdjust="spacingAndGlyphs" fill="#000">3-8</text>
<text x="1099.84" y="1072.9" font-size="31.82" font-weight="normal" textLength="76.8" lengthAdjust="spacingAndGlyphs" fill="#000">12-21</text>
<text x="1203.26" y="1072.59" font-size="31.34" font-weight="normal" textLength="42.32" lengthAdjust="spacingAndGlyphs" fill="#000">0-2</text>
<text x="1268.68" y="1072.6" font-size="30" font-weight="normal" textLength="43.43" lengthAdjust="spacingAndGlyphs" fill="#000">3-8</text>
<text x="1332.98" y="1072.9" font-size="31.82" font-weight="normal" textLength="75.63" lengthAdjust="spacingAndGlyphs" fill="#000">12-21</text>
<text x="1435.87" y="1072.59" font-size="31.34" font-weight="normal" textLength="41.9" lengthAdjust="spacingAndGlyphs" fill="#000">0-2</text>
<text x="1500.27" y="1072.6" font-size="30" font-weight="normal" textLength="43.96" lengthAdjust="spacingAndGlyphs" fill="#000">3-8</text>
<text x="1564.51" y="1072.9" font-size="31.82" font-weight="normal" textLength="74.89" lengthAdjust="spacingAndGlyphs" fill="#000">12-21</text>
<text x="1195.25" y="1115.2" font-size="34.15" font-weight="normal" textLength="195.77" lengthAdjust="spacingAndGlyphs" fill="#000">Time (month)</text>
<text transform="translate(875.5 1028.63) rotate(-90)" x="0" y="0" font-size="33.75" textLength="296.14" lengthAdjust="spacingAndGlyphs" style="stroke-width:0.15px">log{Ksed-wp/Kpl-wp}</text>
</svg>
<script>
(function(){try{var c=document.createElement('canvas').getContext('2d');var s='mmmmWWWWiiiill0123';c.font='72px monospace';var a=c.measureText(s).width;c.font='72px Carlito, monospace';var b=c.measureText(s).width;if(Math.abs(a-b)<0.5){var ts=document.querySelectorAll('svg text');for(var i=0;i<ts.length;i++){var f=parseFloat(ts[i].getAttribute('font-size'));ts[i].setAttribute('font-size',(f*0.908).toFixed(2));}}}catch(e){}})();
</script>
</body></html>
